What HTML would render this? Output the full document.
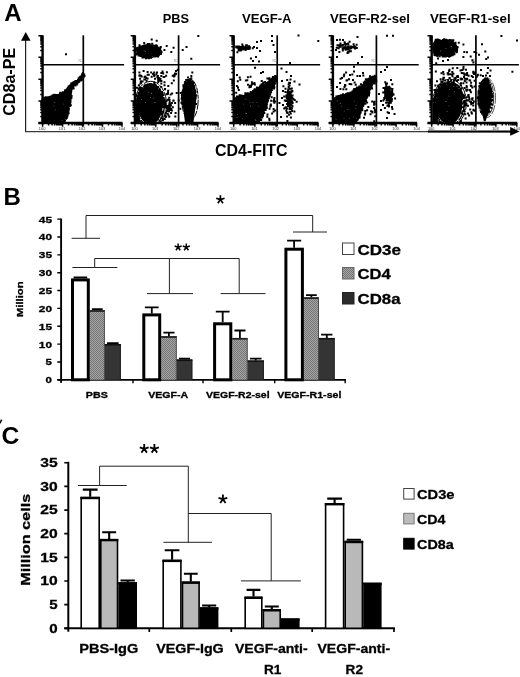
<!DOCTYPE html>
<html><head><meta charset="utf-8"><title>Figure</title>
<style>html,body{margin:0;padding:0;background:#fff;}body{width:520px;height:677px;overflow:hidden;font-family:"Liberation Sans",sans-serif;}svg{display:block;}text{font-family:"Liberation Sans",sans-serif;}</style>
</head><body>
<svg width="520" height="677" viewBox="0 0 520 677" style="opacity:0.999">
<defs>
<pattern id="dith" width="2" height="2" patternUnits="userSpaceOnUse"><rect width="2" height="2" fill="#a4a4a4"/><rect width="1" height="1" fill="#767676"/><rect x="1" y="1" width="1" height="1" fill="#767676"/></pattern>
<pattern id="dith2" width="2" height="2" patternUnits="userSpaceOnUse"><rect width="2" height="2" fill="#bdbdbd"/><rect width="1" height="1" fill="#b0b0b0"/><rect x="1" y="1" width="1" height="1" fill="#b0b0b0"/></pattern>
<filter id="soft" x="-5%" y="-5%" width="110%" height="110%"><feGaussianBlur stdDeviation="0.35"/></filter>
</defs>
<rect width="520" height="677" fill="#fff"/>
<g id="panelA">
<text x="4.2" y="21.2" font-size="24" font-weight="bold" fill="#000">A</text>
<text transform="translate(15,81.8) rotate(-90)" text-anchor="middle" font-size="16.4" font-weight="bold" fill="#000" textLength="68" lengthAdjust="spacingAndGlyphs">CD8a-PE</text>
<line x1="25.6" y1="40" x2="25.6" y2="131.8" stroke="#222" stroke-width="1.2"/>
<polygon points="25.7,32 21,40.8 30.6,40.8" fill="#000"/>
<line x1="25" y1="131.7" x2="512" y2="131.7" stroke="#3a3a3a" stroke-width="1.3"/>
<line x1="428" y1="131.5" x2="512" y2="131.5" stroke="#000" stroke-width="2"/>
<polygon points="519.6,131.4 510.2,127.1 510.2,135.8" fill="#000"/>
<text x="162.7" y="22.6" font-size="13" font-weight="bold" fill="#000" textLength="26.30000000000001" lengthAdjust="spacingAndGlyphs">PBS</text>
<text x="242" y="22.6" font-size="13" font-weight="bold" fill="#000" textLength="49.60000000000002" lengthAdjust="spacingAndGlyphs">VEGF-A</text>
<text x="330" y="22.6" font-size="13" font-weight="bold" fill="#000" textLength="80" lengthAdjust="spacingAndGlyphs">VEGF-R2-sel</text>
<text x="430" y="22.6" font-size="13" font-weight="bold" fill="#000" textLength="80.60000000000002" lengthAdjust="spacingAndGlyphs">VEGF-R1-sel</text>
<text x="215" y="155.7" font-size="16.4" font-weight="bold" fill="#000" textLength="72.6" lengthAdjust="spacingAndGlyphs">CD4-FITC</text>
<line x1="42.6" y1="35.3" x2="42.6" y2="124.2" stroke="#000" stroke-width="2.4"/>
<path d="M42.6 123.0h-4.2M42.6 116.4h-2.4M42.6 112.5h-2.4M42.6 109.8h-2.4M42.6 107.7h-2.4M42.6 105.9h-2.4M42.6 104.5h-2.4M42.6 103.2h-2.4M42.6 102.1h-2.4M42.6 101.1h-4.2M42.6 94.5h-2.4M42.6 90.6h-2.4M42.6 87.9h-2.4M42.6 85.8h-2.4M42.6 84.0h-2.4M42.6 82.5h-2.4M42.6 81.3h-2.4M42.6 80.2h-2.4M42.6 79.2h-4.2M42.6 72.5h-2.4M42.6 68.7h-2.4M42.6 65.9h-2.4M42.6 63.8h-2.4M42.6 62.1h-2.4M42.6 60.6h-2.4M42.6 59.3h-2.4M42.6 58.2h-2.4M42.6 57.2h-4.2M42.6 50.6h-2.4M42.6 46.8h-2.4M42.6 44.0h-2.4M42.6 41.9h-2.4M42.6 40.2h-2.4M42.6 38.7h-2.4M42.6 37.4h-2.4M42.6 36.3h-2.4M42.6 35.8h-4.2" stroke="#000" stroke-width="1.5" fill="none"/>
<line x1="38.4" y1="123.0" x2="122.5" y2="123.0" stroke="#000" stroke-width="2.5"/>
<path d="M42.6 123.0v3.8M48.6 123.0v2.6M52.1 123.0v2.6M54.6 123.0v2.6M56.6 123.0v2.6M58.1 123.0v2.6M59.5 123.0v2.6M60.6 123.0v2.6M61.7 123.0v2.6M62.6 123.0v3.8M68.6 123.0v2.6M72.1 123.0v2.6M74.6 123.0v2.6M76.5 123.0v2.6M78.1 123.0v2.6M79.5 123.0v2.6M80.6 123.0v2.6M81.6 123.0v2.6M82.6 123.0v3.8M88.6 123.0v2.6M92.1 123.0v2.6M94.6 123.0v2.6M96.5 123.0v2.6M98.1 123.0v2.6M99.4 123.0v2.6M100.6 123.0v2.6M101.6 123.0v2.6M102.5 123.0v3.8M108.5 123.0v2.6M112.1 123.0v2.6M114.6 123.0v2.6M116.5 123.0v2.6M118.1 123.0v2.6M119.4 123.0v2.6M120.6 123.0v2.6M121.6 123.0v2.6M122.0 123.0v3.8" stroke="#000" stroke-width="1.5" fill="none"/>
<text x="42.1" y="130.1" font-size="3.9" fill="#2a2a2a" text-anchor="middle">100</text>
<text x="62.1" y="130.1" font-size="3.9" fill="#2a2a2a" text-anchor="middle">101</text>
<text x="82.1" y="130.1" font-size="3.9" fill="#2a2a2a" text-anchor="middle">102</text>
<text x="102.0" y="130.1" font-size="3.9" fill="#2a2a2a" text-anchor="middle">103</text>
<text x="122.0" y="130.1" font-size="3.9" fill="#2a2a2a" text-anchor="middle">104</text>
<line x1="83.3" y1="35.3" x2="83.3" y2="126.4" stroke="#000" stroke-width="1.7"/>
<line x1="42.6" y1="64.8" x2="124.1" y2="64.8" stroke="#000" stroke-width="1.6"/>
<text x="78.5" y="62.4" font-size="3.4" fill="#888">R2</text>
<line x1="134.9" y1="35.3" x2="134.9" y2="124.2" stroke="#000" stroke-width="2.4"/>
<path d="M134.9 123.0h-4.2M134.9 116.4h-2.4M134.9 112.5h-2.4M134.9 109.8h-2.4M134.9 107.7h-2.4M134.9 105.9h-2.4M134.9 104.5h-2.4M134.9 103.2h-2.4M134.9 102.1h-2.4M134.9 101.1h-4.2M134.9 94.5h-2.4M134.9 90.6h-2.4M134.9 87.9h-2.4M134.9 85.8h-2.4M134.9 84.0h-2.4M134.9 82.5h-2.4M134.9 81.3h-2.4M134.9 80.2h-2.4M134.9 79.2h-4.2M134.9 72.5h-2.4M134.9 68.7h-2.4M134.9 65.9h-2.4M134.9 63.8h-2.4M134.9 62.1h-2.4M134.9 60.6h-2.4M134.9 59.3h-2.4M134.9 58.2h-2.4M134.9 57.2h-4.2M134.9 50.6h-2.4M134.9 46.8h-2.4M134.9 44.0h-2.4M134.9 41.9h-2.4M134.9 40.2h-2.4M134.9 38.7h-2.4M134.9 37.4h-2.4M134.9 36.3h-2.4M134.9 35.8h-4.2" stroke="#000" stroke-width="1.5" fill="none"/>
<line x1="130.70000000000002" y1="123.0" x2="218.5" y2="123.0" stroke="#000" stroke-width="2.5"/>
<path d="M134.9 123.0v3.8M141.2 123.0v2.6M144.9 123.0v2.6M147.5 123.0v2.6M149.5 123.0v2.6M151.2 123.0v2.6M152.6 123.0v2.6M153.8 123.0v2.6M154.8 123.0v2.6M155.8 123.0v3.8M162.1 123.0v2.6M165.8 123.0v2.6M168.4 123.0v2.6M170.4 123.0v2.6M172.1 123.0v2.6M173.5 123.0v2.6M174.7 123.0v2.6M175.7 123.0v2.6M176.7 123.0v3.8M183.0 123.0v2.6M186.7 123.0v2.6M189.3 123.0v2.6M191.3 123.0v2.6M193.0 123.0v2.6M194.4 123.0v2.6M195.6 123.0v2.6M196.6 123.0v2.6M197.6 123.0v3.8M203.9 123.0v2.6M207.6 123.0v2.6M210.2 123.0v2.6M212.2 123.0v2.6M213.9 123.0v2.6M215.3 123.0v2.6M216.5 123.0v2.6M217.5 123.0v2.6M218.0 123.0v3.8" stroke="#000" stroke-width="1.5" fill="none"/>
<text x="134.4" y="130.1" font-size="3.9" fill="#2a2a2a" text-anchor="middle">100</text>
<text x="155.3" y="130.1" font-size="3.9" fill="#2a2a2a" text-anchor="middle">101</text>
<text x="176.2" y="130.1" font-size="3.9" fill="#2a2a2a" text-anchor="middle">102</text>
<text x="197.1" y="130.1" font-size="3.9" fill="#2a2a2a" text-anchor="middle">103</text>
<text x="218.0" y="130.1" font-size="3.9" fill="#2a2a2a" text-anchor="middle">104</text>
<line x1="178.6" y1="35.3" x2="178.6" y2="126.4" stroke="#000" stroke-width="1.7"/>
<line x1="134.9" y1="64.8" x2="220.1" y2="64.8" stroke="#000" stroke-width="1.6"/>
<text x="173.79999999999998" y="62.4" font-size="3.4" fill="#888">R2</text>
<line x1="233.7" y1="35.3" x2="233.7" y2="124.2" stroke="#000" stroke-width="2.4"/>
<path d="M233.7 123.0h-4.2M233.7 116.4h-2.4M233.7 112.5h-2.4M233.7 109.8h-2.4M233.7 107.7h-2.4M233.7 105.9h-2.4M233.7 104.5h-2.4M233.7 103.2h-2.4M233.7 102.1h-2.4M233.7 101.1h-4.2M233.7 94.5h-2.4M233.7 90.6h-2.4M233.7 87.9h-2.4M233.7 85.8h-2.4M233.7 84.0h-2.4M233.7 82.5h-2.4M233.7 81.3h-2.4M233.7 80.2h-2.4M233.7 79.2h-4.2M233.7 72.5h-2.4M233.7 68.7h-2.4M233.7 65.9h-2.4M233.7 63.8h-2.4M233.7 62.1h-2.4M233.7 60.6h-2.4M233.7 59.3h-2.4M233.7 58.2h-2.4M233.7 57.2h-4.2M233.7 50.6h-2.4M233.7 46.8h-2.4M233.7 44.0h-2.4M233.7 41.9h-2.4M233.7 40.2h-2.4M233.7 38.7h-2.4M233.7 37.4h-2.4M233.7 36.3h-2.4M233.7 35.8h-4.2" stroke="#000" stroke-width="1.5" fill="none"/>
<line x1="229.5" y1="123.0" x2="318.5" y2="123.0" stroke="#000" stroke-width="2.5"/>
<path d="M233.7 123.0v3.8M240.1 123.0v2.6M243.8 123.0v2.6M246.5 123.0v2.6M248.5 123.0v2.6M250.2 123.0v2.6M251.6 123.0v2.6M252.8 123.0v2.6M253.9 123.0v2.6M254.9 123.0v3.8M261.3 123.0v2.6M265.0 123.0v2.6M267.7 123.0v2.6M269.7 123.0v2.6M271.4 123.0v2.6M272.8 123.0v2.6M274.0 123.0v2.6M275.1 123.0v2.6M276.1 123.0v3.8M282.5 123.0v2.6M286.2 123.0v2.6M288.9 123.0v2.6M290.9 123.0v2.6M292.6 123.0v2.6M294.0 123.0v2.6M295.2 123.0v2.6M296.3 123.0v2.6M297.3 123.0v3.8M303.7 123.0v2.6M307.4 123.0v2.6M310.1 123.0v2.6M312.1 123.0v2.6M313.8 123.0v2.6M315.2 123.0v2.6M316.4 123.0v2.6M317.5 123.0v2.6M318.0 123.0v3.8" stroke="#000" stroke-width="1.5" fill="none"/>
<text x="233.2" y="130.1" font-size="3.9" fill="#2a2a2a" text-anchor="middle">100</text>
<text x="254.4" y="130.1" font-size="3.9" fill="#2a2a2a" text-anchor="middle">101</text>
<text x="275.6" y="130.1" font-size="3.9" fill="#2a2a2a" text-anchor="middle">102</text>
<text x="296.8" y="130.1" font-size="3.9" fill="#2a2a2a" text-anchor="middle">103</text>
<text x="318.0" y="130.1" font-size="3.9" fill="#2a2a2a" text-anchor="middle">104</text>
<line x1="277.2" y1="35.3" x2="277.2" y2="126.4" stroke="#000" stroke-width="1.7"/>
<line x1="233.7" y1="64.8" x2="320.1" y2="64.8" stroke="#000" stroke-width="1.6"/>
<text x="272.4" y="62.4" font-size="3.4" fill="#888">R2</text>
<line x1="332.9" y1="35.3" x2="332.9" y2="124.2" stroke="#000" stroke-width="2.4"/>
<path d="M332.9 123.0h-4.2M332.9 116.4h-2.4M332.9 112.5h-2.4M332.9 109.8h-2.4M332.9 107.7h-2.4M332.9 105.9h-2.4M332.9 104.5h-2.4M332.9 103.2h-2.4M332.9 102.1h-2.4M332.9 101.1h-4.2M332.9 94.5h-2.4M332.9 90.6h-2.4M332.9 87.9h-2.4M332.9 85.8h-2.4M332.9 84.0h-2.4M332.9 82.5h-2.4M332.9 81.3h-2.4M332.9 80.2h-2.4M332.9 79.2h-4.2M332.9 72.5h-2.4M332.9 68.7h-2.4M332.9 65.9h-2.4M332.9 63.8h-2.4M332.9 62.1h-2.4M332.9 60.6h-2.4M332.9 59.3h-2.4M332.9 58.2h-2.4M332.9 57.2h-4.2M332.9 50.6h-2.4M332.9 46.8h-2.4M332.9 44.0h-2.4M332.9 41.9h-2.4M332.9 40.2h-2.4M332.9 38.7h-2.4M332.9 37.4h-2.4M332.9 36.3h-2.4M332.9 35.8h-4.2" stroke="#000" stroke-width="1.5" fill="none"/>
<line x1="328.7" y1="123.0" x2="417.1" y2="123.0" stroke="#000" stroke-width="2.5"/>
<path d="M332.9 123.0v3.8M339.2 123.0v2.6M342.9 123.0v2.6M345.6 123.0v2.6M347.6 123.0v2.6M349.3 123.0v2.6M350.7 123.0v2.6M351.9 123.0v2.6M353.0 123.0v2.6M353.9 123.0v3.8M360.3 123.0v2.6M364.0 123.0v2.6M366.6 123.0v2.6M368.7 123.0v2.6M370.3 123.0v2.6M371.7 123.0v2.6M373.0 123.0v2.6M374.0 123.0v2.6M375.0 123.0v3.8M381.3 123.0v2.6M385.0 123.0v2.6M387.7 123.0v2.6M389.7 123.0v2.6M391.4 123.0v2.6M392.8 123.0v2.6M394.0 123.0v2.6M395.1 123.0v2.6M396.1 123.0v3.8M402.4 123.0v2.6M406.1 123.0v2.6M408.7 123.0v2.6M410.8 123.0v2.6M412.4 123.0v2.6M413.8 123.0v2.6M415.1 123.0v2.6M416.1 123.0v2.6M416.6 123.0v3.8" stroke="#000" stroke-width="1.5" fill="none"/>
<text x="332.4" y="130.1" font-size="3.9" fill="#2a2a2a" text-anchor="middle">100</text>
<text x="353.4" y="130.1" font-size="3.9" fill="#2a2a2a" text-anchor="middle">101</text>
<text x="374.5" y="130.1" font-size="3.9" fill="#2a2a2a" text-anchor="middle">102</text>
<text x="395.6" y="130.1" font-size="3.9" fill="#2a2a2a" text-anchor="middle">103</text>
<text x="416.6" y="130.1" font-size="3.9" fill="#2a2a2a" text-anchor="middle">104</text>
<line x1="376.4" y1="35.3" x2="376.4" y2="126.4" stroke="#000" stroke-width="1.7"/>
<line x1="332.9" y1="64.8" x2="418.70000000000005" y2="64.8" stroke="#000" stroke-width="1.6"/>
<text x="371.59999999999997" y="62.4" font-size="3.4" fill="#888">R2</text>
<line x1="431.7" y1="35.3" x2="431.7" y2="124.2" stroke="#000" stroke-width="2.4"/>
<path d="M431.7 123.0h-4.2M431.7 116.4h-2.4M431.7 112.5h-2.4M431.7 109.8h-2.4M431.7 107.7h-2.4M431.7 105.9h-2.4M431.7 104.5h-2.4M431.7 103.2h-2.4M431.7 102.1h-2.4M431.7 101.1h-4.2M431.7 94.5h-2.4M431.7 90.6h-2.4M431.7 87.9h-2.4M431.7 85.8h-2.4M431.7 84.0h-2.4M431.7 82.5h-2.4M431.7 81.3h-2.4M431.7 80.2h-2.4M431.7 79.2h-4.2M431.7 72.5h-2.4M431.7 68.7h-2.4M431.7 65.9h-2.4M431.7 63.8h-2.4M431.7 62.1h-2.4M431.7 60.6h-2.4M431.7 59.3h-2.4M431.7 58.2h-2.4M431.7 57.2h-4.2M431.7 50.6h-2.4M431.7 46.8h-2.4M431.7 44.0h-2.4M431.7 41.9h-2.4M431.7 40.2h-2.4M431.7 38.7h-2.4M431.7 37.4h-2.4M431.7 36.3h-2.4M431.7 35.8h-4.2" stroke="#000" stroke-width="1.5" fill="none"/>
<line x1="427.5" y1="123.0" x2="517.3" y2="123.0" stroke="#000" stroke-width="2.5"/>
<path d="M431.7 123.0v3.8M438.1 123.0v2.6M441.9 123.0v2.6M444.6 123.0v2.6M446.7 123.0v2.6M448.4 123.0v2.6M449.8 123.0v2.6M451.0 123.0v2.6M452.1 123.0v2.6M453.1 123.0v3.8M459.5 123.0v2.6M463.3 123.0v2.6M466.0 123.0v2.6M468.1 123.0v2.6M469.8 123.0v2.6M471.2 123.0v2.6M472.4 123.0v2.6M473.5 123.0v2.6M474.5 123.0v3.8M480.9 123.0v2.6M484.7 123.0v2.6M487.4 123.0v2.6M489.5 123.0v2.6M491.2 123.0v2.6M492.6 123.0v2.6M493.8 123.0v2.6M494.9 123.0v2.6M495.9 123.0v3.8M502.3 123.0v2.6M506.1 123.0v2.6M508.8 123.0v2.6M510.9 123.0v2.6M512.6 123.0v2.6M514.0 123.0v2.6M515.2 123.0v2.6M516.3 123.0v2.6M516.8 123.0v3.8" stroke="#000" stroke-width="1.5" fill="none"/>
<text x="431.2" y="130.1" font-size="3.9" fill="#2a2a2a" text-anchor="middle">100</text>
<text x="452.6" y="130.1" font-size="3.9" fill="#2a2a2a" text-anchor="middle">101</text>
<text x="474.0" y="130.1" font-size="3.9" fill="#2a2a2a" text-anchor="middle">102</text>
<text x="495.4" y="130.1" font-size="3.9" fill="#2a2a2a" text-anchor="middle">103</text>
<text x="516.8" y="130.1" font-size="3.9" fill="#2a2a2a" text-anchor="middle">104</text>
<line x1="475.9" y1="35.3" x2="475.9" y2="126.4" stroke="#000" stroke-width="1.7"/>
<line x1="431.7" y1="64.8" x2="518.9" y2="64.8" stroke="#000" stroke-width="1.6"/>
<text x="471.09999999999997" y="62.4" font-size="3.4" fill="#888">R2</text>
<g filter="url(#soft)">
<polygon points="42.0,98.3 50.0,96.6 56.5,95.0 60.0,94.0 64.2,92.2 66.8,89.6 69.4,86.0 73.0,83.0 76.0,81.0 80.0,77.4 83.4,73.6 83.8,75.5 82.0,78.8 77.6,82.8 73.6,86.4 70.6,90.5 70.6,96.5 69.6,104.0 68.3,110.0 67.0,114.5 65.2,119.0 63.8,122.4 42.0,122.4" fill="#000" stroke="#000" stroke-width="1.0" stroke-linejoin="round"/>
<path d="M44.1 97.5h2.0v2.0h-2.0zM44.7 96.7h2.0v2.0h-2.0zM44.5 96.3h2.0v2.0h-2.0zM44.3 97.3h2.0v2.0h-2.0zM47.9 96.6h2.0v2.0h-2.0zM45.6 96.8h2.0v2.0h-2.0zM46.0 96.4h2.0v2.0h-2.0zM52.3 94.8h2.0v2.0h-2.0zM54.0 93.9h2.0v2.0h-2.0zM51.5 94.5h2.0v2.0h-2.0zM53.3 96.1h2.0v2.0h-2.0zM48.9 95.9h2.0v2.0h-2.0zM49.8 95.4h2.0v2.0h-2.0zM53.4 93.8h2.0v2.0h-2.0zM54.3 95.1h2.0v2.0h-2.0zM52.3 94.3h2.0v2.0h-2.0zM55.1 94.0h2.0v2.0h-2.0zM54.2 94.9h2.0v2.0h-2.0zM58.9 93.3h2.0v2.0h-2.0zM55.8 94.3h2.0v2.0h-2.0zM55.2 94.1h2.0v2.0h-2.0zM56.9 94.3h2.0v2.0h-2.0zM56.0 94.5h2.0v2.0h-2.0zM59.1 93.4h2.0v2.0h-2.0zM62.1 91.3h2.0v2.0h-2.0zM62.5 92.1h2.0v2.0h-2.0zM61.6 91.4h2.0v2.0h-2.0zM59.8 93.1h2.0v2.0h-2.0zM59.2 92.7h2.0v2.0h-2.0zM60.7 92.5h2.0v2.0h-2.0zM59.2 91.7h2.0v2.0h-2.0zM64.2 89.3h2.0v2.0h-2.0zM66.2 89.9h2.0v2.0h-2.0zM66.0 88.4h2.0v2.0h-2.0zM64.0 90.3h2.0v2.0h-2.0zM65.1 89.6h2.0v2.0h-2.0zM64.0 91.1h2.0v2.0h-2.0zM66.3 88.4h2.0v2.0h-2.0zM66.0 88.3h2.0v2.0h-2.0zM67.8 85.2h2.0v2.0h-2.0zM66.1 88.2h2.0v2.0h-2.0zM67.2 86.6h2.0v2.0h-2.0zM66.8 86.9h2.0v2.0h-2.0zM65.8 88.6h2.0v2.0h-2.0zM71.5 82.6h2.0v2.0h-2.0zM71.5 82.1h2.0v2.0h-2.0zM71.1 83.5h2.0v2.0h-2.0zM72.5 81.4h2.0v2.0h-2.0zM69.1 84.5h2.0v2.0h-2.0zM70.2 82.5h2.0v2.0h-2.0zM69.8 85.1h2.0v2.0h-2.0zM72.6 81.2h2.0v2.0h-2.0zM74.4 79.9h2.0v2.0h-2.0zM73.5 81.1h2.0v2.0h-2.0zM72.0 82.4h2.0v2.0h-2.0zM74.7 80.4h2.0v2.0h-2.0zM76.3 80.0h2.0v2.0h-2.0zM73.2 81.7h2.0v2.0h-2.0zM76.0 80.1h2.0v2.0h-2.0zM79.0 76.2h2.0v2.0h-2.0zM77.7 77.4h2.0v2.0h-2.0zM78.5 77.1h2.0v2.0h-2.0zM77.6 77.4h2.0v2.0h-2.0zM77.6 78.1h2.0v2.0h-2.0zM78.4 76.9h2.0v2.0h-2.0zM78.7 76.2h2.0v2.0h-2.0zM76.3 80.6h2.0v2.0h-2.0zM82.4 74.2h2.0v2.0h-2.0zM82.0 72.2h2.0v2.0h-2.0zM80.9 74.4h2.0v2.0h-2.0zM81.9 72.1h2.0v2.0h-2.0zM81.1 73.3h2.0v2.0h-2.0zM81.9 73.7h2.0v2.0h-2.0zM80.0 76.1h2.0v2.0h-2.0zM79.6 75.6h2.0v2.0h-2.0zM82.4 74.9h2.0v2.0h-2.0zM83.2 73.4h2.0v2.0h-2.0zM82.0 74.3h2.0v2.0h-2.0zM82.5 76.3h2.0v2.0h-2.0zM83.5 75.1h2.0v2.0h-2.0zM81.5 75.2h2.0v2.0h-2.0zM81.5 77.0h2.0v2.0h-2.0zM81.9 76.1h2.0v2.0h-2.0zM81.8 76.8h2.0v2.0h-2.0zM76.8 80.9h2.0v2.0h-2.0zM78.2 80.5h2.0v2.0h-2.0zM77.6 80.2h2.0v2.0h-2.0zM77.2 80.8h2.0v2.0h-2.0zM79.8 79.4h2.0v2.0h-2.0zM77.6 81.1h2.0v2.0h-2.0zM79.6 79.6h2.0v2.0h-2.0zM80.9 78.8h2.0v2.0h-2.0zM80.7 78.3h2.0v2.0h-2.0zM74.2 83.0h2.0v2.0h-2.0zM75.8 81.5h2.0v2.0h-2.0zM77.2 81.3h2.0v2.0h-2.0zM76.3 82.4h2.0v2.0h-2.0zM75.8 83.5h2.0v2.0h-2.0zM75.3 82.7h2.0v2.0h-2.0zM75.4 83.5h2.0v2.0h-2.0zM74.5 84.5h2.0v2.0h-2.0zM75.4 83.4h2.0v2.0h-2.0zM70.5 87.9h2.0v2.0h-2.0zM70.0 87.9h2.0v2.0h-2.0zM72.3 86.0h2.0v2.0h-2.0zM70.2 88.9h2.0v2.0h-2.0zM72.3 86.5h2.0v2.0h-2.0zM72.6 87.5h2.0v2.0h-2.0zM70.8 87.5h2.0v2.0h-2.0zM72.2 85.1h2.0v2.0h-2.0zM70.4 89.6h2.0v2.0h-2.0zM70.6 94.9h2.0v2.0h-2.0zM70.0 89.4h2.0v2.0h-2.0zM68.3 91.1h2.0v2.0h-2.0zM70.1 91.6h2.0v2.0h-2.0zM69.9 91.2h2.0v2.0h-2.0zM69.8 90.3h2.0v2.0h-2.0zM69.6 90.8h2.0v2.0h-2.0zM69.8 93.0h2.0v2.0h-2.0zM69.6 89.7h2.0v2.0h-2.0zM68.5 100.9h2.0v2.0h-2.0zM69.4 98.9h2.0v2.0h-2.0zM68.1 101.9h2.0v2.0h-2.0zM68.2 102.2h2.0v2.0h-2.0zM69.5 100.6h2.0v2.0h-2.0zM68.5 100.9h2.0v2.0h-2.0zM69.1 98.7h2.0v2.0h-2.0zM70.4 96.9h2.0v2.0h-2.0zM69.5 97.6h2.0v2.0h-2.0zM69.4 101.2h2.0v2.0h-2.0zM69.3 98.1h2.0v2.0h-2.0zM69.5 99.5h2.0v2.0h-2.0zM69.8 104.2h2.0v2.0h-2.0zM67.9 107.8h2.0v2.0h-2.0zM68.2 104.9h2.0v2.0h-2.0zM67.4 105.4h2.0v2.0h-2.0zM68.3 104.2h2.0v2.0h-2.0zM68.8 104.9h2.0v2.0h-2.0zM69.1 103.3h2.0v2.0h-2.0zM67.7 104.0h2.0v2.0h-2.0zM67.1 106.7h2.0v2.0h-2.0zM67.0 108.6h2.0v2.0h-2.0zM66.6 114.2h2.0v2.0h-2.0zM67.6 112.2h2.0v2.0h-2.0zM65.5 112.3h2.0v2.0h-2.0zM66.7 113.2h2.0v2.0h-2.0zM67.2 110.3h2.0v2.0h-2.0zM65.1 112.1h2.0v2.0h-2.0zM66.3 111.7h2.0v2.0h-2.0zM67.6 109.6h2.0v2.0h-2.0zM66.2 113.3h2.0v2.0h-2.0zM64.2 115.7h2.0v2.0h-2.0zM66.2 115.7h2.0v2.0h-2.0zM63.9 116.9h2.0v2.0h-2.0zM65.7 116.9h2.0v2.0h-2.0zM66.0 114.8h2.0v2.0h-2.0zM65.0 117.7h2.0v2.0h-2.0zM63.7 117.9h2.0v2.0h-2.0zM63.1 118.7h2.0v2.0h-2.0zM63.2 119.9h2.0v2.0h-2.0zM64.0 119.5h2.0v2.0h-2.0zM63.7 119.0h2.0v2.0h-2.0zM64.0 119.1h2.0v2.0h-2.0zM63.0 119.9h2.0v2.0h-2.0zM65.0 53.3h2.0v2.0h-2.0z" fill="#000"/>
<path d="M55.0 109.4h0.8v0.8h-0.8zM53.9 102.1h0.8v0.8h-0.8zM63.3 103.8h0.8v0.8h-0.8zM65.1 119.3h0.8v0.8h-0.8zM61.6 119.9h0.8v0.8h-0.8zM53.5 105.2h0.8v0.8h-0.8z" fill="#666"/>
<polygon points="160.6,51.3 160.4,52.3 160.0,53.2 159.3,54.1 158.3,54.9 157.0,55.7 155.6,56.3 153.9,56.8 152.2,57.2 150.3,57.4 148.4,57.5 146.5,57.4 144.6,57.2 142.9,56.8 141.2,56.3 139.8,55.7 138.5,54.9 137.5,54.1 136.8,53.2 136.4,52.3 136.2,51.3 136.4,50.3 136.8,49.4 137.5,48.5 138.5,47.7 139.8,46.9 141.2,46.3 142.9,45.8 144.6,45.4 146.5,45.2 148.4,45.1 150.3,45.2 152.2,45.4 153.9,45.8 155.6,46.3 157.0,46.9 158.3,47.7 159.3,48.5 160.0,49.4 160.4,50.3 160.6,51.3" fill="#000"/>
<clipPath id="c2"><rect x="136" y="66" width="84" height="56.4"/></clipPath>
<g clip-path="url(#c2)">
<ellipse cx="150.2" cy="105.2" rx="12.5" ry="19.2" fill="#000"/>
<ellipse cx="150.4" cy="104.8" rx="14" ry="21" fill="none" stroke="#000" stroke-width="1.3" stroke-dasharray="11 1 6 0.8 8 1.2"/>
<ellipse cx="150.8" cy="104.3" rx="15.8" ry="23" fill="none" stroke="#000" stroke-width="1.0" stroke-dasharray="7 1.2 10 1 5 1.2"/>
<path d="M136 101 L139 100 L140 122.4 L136 122.4Z" fill="#000"/>
<ellipse cx="189.2" cy="99" rx="6.9" ry="18.8" fill="#000"/>
<polygon points="183,106 195.6,106 193.4,122.4 185,122.4" fill="#000"/>
<ellipse cx="190" cy="99.6" rx="8.2" ry="20.4" fill="none" stroke="#000" stroke-width="1.0" stroke-dasharray="10 1.2 6 1 4 1.2"/>
</g>
<path d="M160.0 50.3h2.0v2.0h-2.0zM160.0 51.5h2.0v2.0h-2.0zM159.9 53.1h2.0v2.0h-2.0zM160.0 51.0h2.0v2.0h-2.0zM159.5 51.9h2.0v2.0h-2.0zM159.8 52.3h2.0v2.0h-2.0zM157.7 53.9h2.0v2.0h-2.0zM157.4 54.6h2.0v2.0h-2.0zM157.3 52.6h2.0v2.0h-2.0zM158.1 53.5h2.0v2.0h-2.0zM156.0 55.3h2.0v2.0h-2.0zM156.4 54.9h2.0v2.0h-2.0zM155.0 55.2h2.0v2.0h-2.0zM157.0 55.5h2.0v2.0h-2.0zM154.6 55.3h2.0v2.0h-2.0zM153.7 55.4h2.0v2.0h-2.0zM155.4 55.1h2.0v2.0h-2.0zM150.4 55.0h2.0v2.0h-2.0zM150.2 55.8h2.0v2.0h-2.0zM152.8 55.1h2.0v2.0h-2.0zM149.4 55.9h2.0v2.0h-2.0zM151.4 56.0h2.0v2.0h-2.0zM150.0 56.8h2.0v2.0h-2.0zM148.4 56.4h2.0v2.0h-2.0zM147.8 57.3h2.0v2.0h-2.0zM148.8 56.8h2.0v2.0h-2.0zM147.7 56.0h2.0v2.0h-2.0zM148.9 55.2h2.0v2.0h-2.0zM146.8 56.8h2.0v2.0h-2.0zM145.2 56.7h2.0v2.0h-2.0zM145.0 57.3h2.0v2.0h-2.0zM143.8 55.5h2.0v2.0h-2.0zM142.2 55.9h2.0v2.0h-2.0zM143.6 56.3h2.0v2.0h-2.0zM142.5 56.4h2.0v2.0h-2.0zM141.2 55.1h2.0v2.0h-2.0zM141.4 56.4h2.0v2.0h-2.0zM142.4 55.2h2.0v2.0h-2.0zM139.1 54.8h2.0v2.0h-2.0zM139.8 54.4h2.0v2.0h-2.0zM140.1 54.9h2.0v2.0h-2.0zM138.3 52.8h2.0v2.0h-2.0zM137.6 54.3h2.0v2.0h-2.0zM137.5 54.4h2.0v2.0h-2.0zM136.4 52.2h2.0v2.0h-2.0zM135.9 53.5h2.0v2.0h-2.0zM136.6 52.6h2.0v2.0h-2.0zM135.7 53.1h2.0v2.0h-2.0zM135.9 49.1h2.0v2.0h-2.0zM135.8 47.3h2.0v2.0h-2.0zM137.4 47.4h2.0v2.0h-2.0zM136.8 46.7h2.0v2.0h-2.0zM138.5 45.2h2.0v2.0h-2.0zM138.4 46.4h2.0v2.0h-2.0zM138.6 46.5h2.0v2.0h-2.0zM139.4 47.1h2.0v2.0h-2.0zM139.7 46.1h2.0v2.0h-2.0zM138.5 44.2h2.0v2.0h-2.0zM140.1 45.5h2.0v2.0h-2.0zM142.0 45.0h2.0v2.0h-2.0zM139.2 46.2h2.0v2.0h-2.0zM143.2 42.0h2.0v2.0h-2.0zM143.3 44.8h2.0v2.0h-2.0zM143.5 44.2h2.0v2.0h-2.0zM144.4 44.7h2.0v2.0h-2.0zM144.3 44.4h2.0v2.0h-2.0zM143.1 45.7h2.0v2.0h-2.0zM146.2 44.1h2.0v2.0h-2.0zM146.7 43.0h2.0v2.0h-2.0zM147.1 44.4h2.0v2.0h-2.0zM148.5 43.9h2.0v2.0h-2.0zM148.2 44.0h2.0v2.0h-2.0zM148.6 43.0h2.0v2.0h-2.0zM149.6 44.2h2.0v2.0h-2.0zM151.0 45.5h2.0v2.0h-2.0zM150.7 44.9h2.0v2.0h-2.0zM152.5 44.4h2.0v2.0h-2.0zM152.2 45.2h2.0v2.0h-2.0zM151.2 42.8h2.0v2.0h-2.0zM154.1 45.0h2.0v2.0h-2.0zM151.6 45.2h2.0v2.0h-2.0zM154.1 45.6h2.0v2.0h-2.0zM153.6 45.6h2.0v2.0h-2.0zM155.2 44.3h2.0v2.0h-2.0zM155.9 44.9h2.0v2.0h-2.0zM156.2 46.8h2.0v2.0h-2.0zM157.4 46.7h2.0v2.0h-2.0zM157.0 46.7h2.0v2.0h-2.0zM156.7 46.5h2.0v2.0h-2.0zM159.8 46.1h2.0v2.0h-2.0zM158.7 47.9h2.0v2.0h-2.0zM158.4 47.2h2.0v2.0h-2.0zM158.3 49.1h2.0v2.0h-2.0zM159.3 47.7h2.0v2.0h-2.0zM160.5 50.9h2.0v2.0h-2.0zM158.9 49.3h2.0v2.0h-2.0zM136.4 103.5h2.0v2.0h-2.0zM137.5 105.7h2.0v2.0h-2.0zM136.6 100.2h2.0v2.0h-2.0zM136.8 102.0h2.0v2.0h-2.0zM137.4 98.3h2.0v2.0h-2.0zM137.0 96.7h2.0v2.0h-2.0zM136.4 98.1h2.0v2.0h-2.0zM136.8 99.3h2.0v2.0h-2.0zM137.1 97.0h2.0v2.0h-2.0zM136.6 96.7h2.0v2.0h-2.0zM138.0 97.6h2.0v2.0h-2.0zM138.1 95.3h2.0v2.0h-2.0zM135.8 94.8h2.0v2.0h-2.0zM138.2 97.5h2.0v2.0h-2.0zM137.9 94.5h2.0v2.0h-2.0zM138.0 94.0h2.0v2.0h-2.0zM136.0 94.8h2.0v2.0h-2.0zM138.1 93.1h2.0v2.0h-2.0zM139.3 91.4h2.0v2.0h-2.0zM137.4 92.1h2.0v2.0h-2.0zM139.9 90.9h2.0v2.0h-2.0zM141.1 90.8h2.0v2.0h-2.0zM140.5 89.7h2.0v2.0h-2.0zM139.1 91.0h2.0v2.0h-2.0zM140.3 90.6h2.0v2.0h-2.0zM142.5 89.1h2.0v2.0h-2.0zM142.1 88.2h2.0v2.0h-2.0zM144.7 86.8h2.0v2.0h-2.0zM144.6 88.5h2.0v2.0h-2.0zM143.3 86.7h2.0v2.0h-2.0zM144.8 88.0h2.0v2.0h-2.0zM141.0 88.1h2.0v2.0h-2.0zM144.0 87.0h2.0v2.0h-2.0zM143.2 85.6h2.0v2.0h-2.0zM144.1 87.9h2.0v2.0h-2.0zM146.5 85.7h2.0v2.0h-2.0zM148.4 85.4h2.0v2.0h-2.0zM144.1 84.3h2.0v2.0h-2.0zM145.5 86.1h2.0v2.0h-2.0zM145.7 85.3h2.0v2.0h-2.0zM146.8 84.7h2.0v2.0h-2.0zM146.4 84.6h2.0v2.0h-2.0zM149.1 83.0h2.0v2.0h-2.0zM147.5 84.5h2.0v2.0h-2.0zM147.5 84.6h2.0v2.0h-2.0zM149.5 84.3h2.0v2.0h-2.0zM151.8 85.3h2.0v2.0h-2.0zM149.9 84.4h2.0v2.0h-2.0zM149.1 86.6h2.0v2.0h-2.0zM153.2 81.3h2.0v2.0h-2.0zM151.9 83.9h2.0v2.0h-2.0zM150.2 85.4h2.0v2.0h-2.0zM154.2 87.0h2.0v2.0h-2.0zM154.2 85.7h2.0v2.0h-2.0zM155.6 88.0h2.0v2.0h-2.0zM153.9 84.9h2.0v2.0h-2.0zM154.6 85.3h2.0v2.0h-2.0zM153.8 86.2h2.0v2.0h-2.0zM154.9 86.7h2.0v2.0h-2.0zM154.6 84.6h2.0v2.0h-2.0zM156.1 86.6h2.0v2.0h-2.0zM155.6 86.7h2.0v2.0h-2.0zM155.3 87.4h2.0v2.0h-2.0zM160.8 91.6h2.0v2.0h-2.0zM155.9 90.2h2.0v2.0h-2.0zM158.8 88.4h2.0v2.0h-2.0zM158.4 88.7h2.0v2.0h-2.0zM158.1 89.3h2.0v2.0h-2.0zM158.7 92.3h2.0v2.0h-2.0zM158.3 91.6h2.0v2.0h-2.0zM159.5 91.4h2.0v2.0h-2.0zM158.1 90.3h2.0v2.0h-2.0zM160.7 93.0h2.0v2.0h-2.0zM159.8 92.7h2.0v2.0h-2.0zM159.5 93.0h2.0v2.0h-2.0zM160.3 94.7h2.0v2.0h-2.0zM161.4 97.0h2.0v2.0h-2.0zM162.7 97.2h2.0v2.0h-2.0zM161.0 95.1h2.0v2.0h-2.0zM162.4 93.9h2.0v2.0h-2.0zM161.3 97.1h2.0v2.0h-2.0zM160.5 96.9h2.0v2.0h-2.0zM158.8 98.3h2.0v2.0h-2.0zM161.6 100.1h2.0v2.0h-2.0zM160.5 97.9h2.0v2.0h-2.0zM163.7 99.3h2.0v2.0h-2.0zM159.0 97.2h2.0v2.0h-2.0zM162.2 99.9h2.0v2.0h-2.0zM160.7 99.4h2.0v2.0h-2.0zM161.7 101.4h2.0v2.0h-2.0zM163.6 98.8h2.0v2.0h-2.0zM164.5 101.6h2.0v2.0h-2.0zM160.4 104.1h2.0v2.0h-2.0zM162.3 103.6h2.0v2.0h-2.0zM163.3 102.9h2.0v2.0h-2.0zM161.5 101.5h2.0v2.0h-2.0zM181.4 102.7h2.0v2.0h-2.0zM181.7 101.8h2.0v2.0h-2.0zM180.4 101.7h2.0v2.0h-2.0zM181.7 103.2h2.0v2.0h-2.0zM181.5 101.3h2.0v2.0h-2.0zM181.3 97.5h2.0v2.0h-2.0zM181.1 98.8h2.0v2.0h-2.0zM180.6 97.5h2.0v2.0h-2.0zM182.1 95.9h2.0v2.0h-2.0zM180.9 94.2h2.0v2.0h-2.0zM181.2 95.8h2.0v2.0h-2.0zM181.6 98.0h2.0v2.0h-2.0zM181.7 94.6h2.0v2.0h-2.0zM182.6 95.9h2.0v2.0h-2.0zM181.6 94.2h2.0v2.0h-2.0zM181.0 94.0h2.0v2.0h-2.0zM181.9 90.0h2.0v2.0h-2.0zM181.0 91.5h2.0v2.0h-2.0zM182.1 89.7h2.0v2.0h-2.0zM183.4 88.9h2.0v2.0h-2.0zM182.2 89.4h2.0v2.0h-2.0zM182.8 88.2h2.0v2.0h-2.0zM182.8 86.9h2.0v2.0h-2.0zM182.4 88.8h2.0v2.0h-2.0zM183.2 85.7h2.0v2.0h-2.0zM183.4 85.9h2.0v2.0h-2.0zM182.6 85.5h2.0v2.0h-2.0zM184.3 83.8h2.0v2.0h-2.0zM183.8 82.8h2.0v2.0h-2.0zM182.4 84.2h2.0v2.0h-2.0zM184.1 81.3h2.0v2.0h-2.0zM184.4 82.1h2.0v2.0h-2.0zM184.8 81.4h2.0v2.0h-2.0zM185.2 78.9h2.0v2.0h-2.0zM184.1 81.1h2.0v2.0h-2.0zM187.0 80.1h2.0v2.0h-2.0zM186.5 79.2h2.0v2.0h-2.0zM187.7 79.5h2.0v2.0h-2.0zM187.3 79.1h2.0v2.0h-2.0zM189.6 79.7h2.0v2.0h-2.0zM188.8 78.2h2.0v2.0h-2.0zM188.7 79.9h2.0v2.0h-2.0zM191.1 80.6h2.0v2.0h-2.0zM190.1 80.5h2.0v2.0h-2.0zM190.1 81.0h2.0v2.0h-2.0zM191.8 83.2h2.0v2.0h-2.0zM191.4 80.7h2.0v2.0h-2.0zM191.1 82.6h2.0v2.0h-2.0zM192.5 82.1h2.0v2.0h-2.0zM192.7 84.7h2.0v2.0h-2.0zM192.1 84.0h2.0v2.0h-2.0zM193.3 85.3h2.0v2.0h-2.0zM192.3 86.0h2.0v2.0h-2.0zM193.4 86.8h2.0v2.0h-2.0zM193.0 88.2h2.0v2.0h-2.0zM193.1 87.6h2.0v2.0h-2.0zM193.7 89.0h2.0v2.0h-2.0zM194.3 89.7h2.0v2.0h-2.0zM194.5 91.0h2.0v2.0h-2.0zM194.3 91.5h2.0v2.0h-2.0zM194.0 90.3h2.0v2.0h-2.0zM192.8 90.2h2.0v2.0h-2.0zM193.4 94.1h2.0v2.0h-2.0zM194.9 94.2h2.0v2.0h-2.0zM194.2 91.8h2.0v2.0h-2.0zM193.2 92.9h2.0v2.0h-2.0zM194.6 97.4h2.0v2.0h-2.0zM194.7 96.6h2.0v2.0h-2.0zM194.1 96.7h2.0v2.0h-2.0zM194.1 97.3h2.0v2.0h-2.0zM193.4 98.9h2.0v2.0h-2.0zM194.1 99.7h2.0v2.0h-2.0zM193.5 99.5h2.0v2.0h-2.0zM193.7 97.8h2.0v2.0h-2.0zM193.7 100.5h2.0v2.0h-2.0zM192.4 102.2h2.0v2.0h-2.0zM194.0 101.0h2.0v2.0h-2.0zM195.0 102.9h2.0v2.0h-2.0zM160.0 109.3h2.0v2.0h-2.0zM155.3 87.2h2.0v2.0h-2.0zM153.3 117.7h2.0v2.0h-2.0zM136.3 112.7h2.0v2.0h-2.0zM147.4 103.2h2.0v2.0h-2.0zM148.0 112.0h2.0v2.0h-2.0zM159.9 101.0h2.0v2.0h-2.0zM135.9 108.9h2.0v2.0h-2.0zM144.8 107.5h2.0v2.0h-2.0zM152.1 119.5h2.0v2.0h-2.0zM160.9 94.6h2.0v2.0h-2.0zM144.1 105.2h2.0v2.0h-2.0zM161.4 115.1h2.0v2.0h-2.0zM154.7 84.2h2.0v2.0h-2.0zM136.9 103.0h2.0v2.0h-2.0zM140.9 113.7h2.0v2.0h-2.0zM157.2 79.9h2.0v2.0h-2.0zM141.3 102.0h2.0v2.0h-2.0zM144.6 98.1h2.0v2.0h-2.0zM154.2 90.3h2.0v2.0h-2.0zM154.2 92.4h2.0v2.0h-2.0zM144.1 106.4h2.0v2.0h-2.0zM143.8 103.4h2.0v2.0h-2.0zM165.5 100.3h2.0v2.0h-2.0zM148.0 108.8h2.0v2.0h-2.0zM145.8 113.0h2.0v2.0h-2.0zM136.7 107.4h2.0v2.0h-2.0zM144.4 90.4h2.0v2.0h-2.0zM167.2 89.8h2.0v2.0h-2.0zM167.1 107.9h2.0v2.0h-2.0zM164.0 88.3h2.0v2.0h-2.0zM161.5 117.5h2.0v2.0h-2.0zM148.3 98.5h2.0v2.0h-2.0zM174.1 102.1h2.0v2.0h-2.0zM145.3 92.4h2.0v2.0h-2.0zM154.0 104.0h2.0v2.0h-2.0zM146.2 105.7h2.0v2.0h-2.0zM164.1 88.0h2.0v2.0h-2.0zM136.0 86.8h2.0v2.0h-2.0zM139.1 77.8h2.0v2.0h-2.0zM154.0 77.7h2.0v2.0h-2.0zM154.5 117.4h2.0v2.0h-2.0zM142.1 96.8h2.0v2.0h-2.0zM150.0 106.5h2.0v2.0h-2.0zM146.0 100.2h2.0v2.0h-2.0zM144.0 101.4h2.0v2.0h-2.0zM137.8 100.8h2.0v2.0h-2.0zM168.7 101.0h2.0v2.0h-2.0zM136.9 103.1h2.0v2.0h-2.0zM139.8 80.2h2.0v2.0h-2.0zM142.1 108.8h2.0v2.0h-2.0zM153.3 98.8h2.0v2.0h-2.0zM140.2 87.1h2.0v2.0h-2.0zM163.0 102.9h2.0v2.0h-2.0zM140.0 74.7h2.0v2.0h-2.0zM138.0 99.1h2.0v2.0h-2.0zM151.6 98.1h2.0v2.0h-2.0zM146.7 83.5h2.0v2.0h-2.0zM139.0 120.3h2.0v2.0h-2.0zM141.9 110.1h2.0v2.0h-2.0zM152.1 112.4h2.0v2.0h-2.0zM138.3 107.1h2.0v2.0h-2.0zM153.4 91.1h2.0v2.0h-2.0zM154.3 89.2h2.0v2.0h-2.0zM141.5 99.8h2.0v2.0h-2.0zM139.5 82.4h2.0v2.0h-2.0zM145.2 109.2h2.0v2.0h-2.0zM145.5 115.2h2.0v2.0h-2.0zM137.9 84.3h2.0v2.0h-2.0zM165.0 104.8h2.0v2.0h-2.0zM159.0 90.1h2.0v2.0h-2.0zM157.5 103.1h2.0v2.0h-2.0zM156.0 100.3h2.0v2.0h-2.0zM161.6 92.2h2.0v2.0h-2.0zM139.9 82.3h2.0v2.0h-2.0zM161.1 91.1h2.0v2.0h-2.0zM139.1 88.7h2.0v2.0h-2.0zM145.0 84.7h2.0v2.0h-2.0zM146.6 92.5h2.0v2.0h-2.0zM144.0 88.5h2.0v2.0h-2.0zM149.9 94.5h2.0v2.0h-2.0zM150.6 103.0h2.0v2.0h-2.0zM152.9 73.7h2.0v2.0h-2.0zM144.1 90.4h2.0v2.0h-2.0zM157.2 81.1h2.0v2.0h-2.0zM142.4 96.5h2.0v2.0h-2.0zM146.1 111.9h2.0v2.0h-2.0zM145.1 111.6h2.0v2.0h-2.0zM161.7 105.2h2.0v2.0h-2.0zM154.4 101.5h2.0v2.0h-2.0zM154.3 85.4h2.0v2.0h-2.0zM159.0 93.6h2.0v2.0h-2.0zM159.4 101.1h2.0v2.0h-2.0zM160.8 98.4h2.0v2.0h-2.0zM145.5 102.9h2.0v2.0h-2.0zM145.2 93.5h2.0v2.0h-2.0zM150.5 101.7h2.0v2.0h-2.0zM164.7 100.5h2.0v2.0h-2.0zM166.7 112.7h2.0v2.0h-2.0zM150.8 101.6h2.0v2.0h-2.0zM148.1 91.2h2.0v2.0h-2.0zM148.8 92.3h2.0v2.0h-2.0zM165.9 106.4h2.0v2.0h-2.0zM145.0 77.0h2.0v2.0h-2.0zM149.0 95.0h2.0v2.0h-2.0zM138.6 86.4h2.0v2.0h-2.0zM149.2 98.2h2.0v2.0h-2.0zM163.9 101.6h2.0v2.0h-2.0zM151.2 95.5h2.0v2.0h-2.0zM143.4 118.0h2.0v2.0h-2.0zM159.5 120.6h2.0v2.0h-2.0zM146.0 100.4h2.0v2.0h-2.0zM140.7 111.6h2.0v2.0h-2.0zM160.5 116.9h2.0v2.0h-2.0zM140.1 113.1h2.0v2.0h-2.0zM142.4 90.9h2.0v2.0h-2.0zM136.3 113.9h2.0v2.0h-2.0zM166.0 92.9h2.0v2.0h-2.0zM141.9 95.9h2.0v2.0h-2.0zM174.6 112.1h2.0v2.0h-2.0zM144.1 78.5h2.0v2.0h-2.0zM142.8 114.2h2.0v2.0h-2.0zM168.2 96.8h2.0v2.0h-2.0zM142.6 93.9h2.0v2.0h-2.0zM138.6 112.8h2.0v2.0h-2.0zM152.4 90.8h2.0v2.0h-2.0zM157.3 100.1h2.0v2.0h-2.0zM137.8 107.5h2.0v2.0h-2.0zM157.9 77.0h2.0v2.0h-2.0zM167.8 106.0h2.0v2.0h-2.0zM157.1 77.7h2.0v2.0h-2.0zM142.3 95.8h2.0v2.0h-2.0zM160.3 82.5h2.0v2.0h-2.0zM140.7 75.6h2.0v2.0h-2.0zM147.1 104.2h2.0v2.0h-2.0zM154.6 119.0h2.0v2.0h-2.0zM156.1 96.4h2.0v2.0h-2.0zM137.7 88.8h2.0v2.0h-2.0zM142.9 101.8h2.0v2.0h-2.0zM149.0 120.0h2.0v2.0h-2.0zM152.4 87.1h2.0v2.0h-2.0zM164.9 111.4h2.0v2.0h-2.0zM150.5 91.3h2.0v2.0h-2.0zM158.6 90.4h2.0v2.0h-2.0zM136.3 102.3h2.0v2.0h-2.0zM151.9 107.3h2.0v2.0h-2.0zM156.1 116.9h2.0v2.0h-2.0zM141.1 111.7h2.0v2.0h-2.0zM139.6 108.3h2.0v2.0h-2.0zM151.3 102.9h2.0v2.0h-2.0zM159.2 99.8h2.0v2.0h-2.0zM160.6 110.5h2.0v2.0h-2.0zM150.9 93.2h2.0v2.0h-2.0zM142.0 93.7h2.0v2.0h-2.0zM147.5 99.7h2.0v2.0h-2.0zM179.3 107.7h2.0v2.0h-2.0zM157.2 89.7h2.0v2.0h-2.0zM142.4 96.2h2.0v2.0h-2.0zM151.4 87.6h2.0v2.0h-2.0zM165.6 93.2h2.0v2.0h-2.0zM160.3 72.0h2.0v2.0h-2.0zM149.4 103.3h2.0v2.0h-2.0zM151.4 107.2h2.0v2.0h-2.0zM152.3 101.9h2.0v2.0h-2.0zM152.6 97.7h2.0v2.0h-2.0zM141.3 93.0h2.0v2.0h-2.0zM148.9 115.5h2.0v2.0h-2.0zM144.7 89.5h2.0v2.0h-2.0zM143.9 102.3h2.0v2.0h-2.0zM179.7 92.1h2.0v2.0h-2.0zM150.0 103.3h2.0v2.0h-2.0zM149.2 111.2h2.0v2.0h-2.0zM167.3 85.1h2.0v2.0h-2.0zM151.1 96.8h2.0v2.0h-2.0zM153.1 81.6h2.0v2.0h-2.0zM154.8 102.3h2.0v2.0h-2.0zM150.2 71.6h2.0v2.0h-2.0zM145.8 90.9h2.0v2.0h-2.0zM156.5 106.5h2.0v2.0h-2.0zM149.3 106.2h2.0v2.0h-2.0zM143.5 100.9h2.0v2.0h-2.0zM149.9 106.7h2.0v2.0h-2.0zM148.8 98.3h2.0v2.0h-2.0zM148.2 92.3h2.0v2.0h-2.0zM171.8 106.2h2.0v2.0h-2.0zM163.5 81.3h2.0v2.0h-2.0zM156.5 110.1h2.0v2.0h-2.0zM168.3 115.8h2.0v2.0h-2.0zM157.2 85.9h2.0v2.0h-2.0zM140.8 103.2h2.0v2.0h-2.0zM154.5 87.7h2.0v2.0h-2.0zM145.7 95.2h2.0v2.0h-2.0zM150.1 104.0h2.0v2.0h-2.0zM146.6 85.2h2.0v2.0h-2.0zM161.9 119.2h2.0v2.0h-2.0zM148.4 112.3h2.0v2.0h-2.0zM153.9 107.9h2.0v2.0h-2.0zM154.3 90.8h2.0v2.0h-2.0zM155.2 112.1h2.0v2.0h-2.0zM169.4 108.9h2.0v2.0h-2.0zM146.1 92.8h2.0v2.0h-2.0zM141.4 101.4h2.0v2.0h-2.0zM149.2 108.0h2.0v2.0h-2.0zM172.3 99.7h2.0v2.0h-2.0zM156.3 105.7h2.0v2.0h-2.0zM152.2 97.5h2.0v2.0h-2.0zM148.3 90.1h2.0v2.0h-2.0zM151.3 99.7h2.0v2.0h-2.0zM152.7 89.7h2.0v2.0h-2.0zM149.9 100.6h2.0v2.0h-2.0zM155.5 87.2h2.0v2.0h-2.0zM153.7 111.8h2.0v2.0h-2.0zM155.5 95.6h2.0v2.0h-2.0zM144.6 97.2h2.0v2.0h-2.0zM156.8 118.6h2.0v2.0h-2.0zM147.9 92.3h2.0v2.0h-2.0zM153.3 102.5h2.0v2.0h-2.0zM140.4 91.2h2.0v2.0h-2.0zM148.5 108.1h2.0v2.0h-2.0zM137.6 87.8h2.0v2.0h-2.0zM154.5 85.3h2.0v2.0h-2.0zM150.6 104.2h2.0v2.0h-2.0zM148.4 87.8h2.0v2.0h-2.0zM148.9 96.0h2.0v2.0h-2.0zM152.9 89.9h2.0v2.0h-2.0zM160.4 79.9h2.0v2.0h-2.0zM147.7 100.1h2.0v2.0h-2.0zM159.1 92.7h2.0v2.0h-2.0zM155.0 93.2h2.0v2.0h-2.0zM145.5 105.3h2.0v2.0h-2.0zM140.2 111.7h2.0v2.0h-2.0zM161.6 100.4h2.0v2.0h-2.0zM138.2 104.8h2.0v2.0h-2.0zM161.0 113.1h2.0v2.0h-2.0zM157.6 78.0h2.0v2.0h-2.0zM142.7 117.1h2.0v2.0h-2.0zM137.2 113.6h2.0v2.0h-2.0zM168.3 109.1h2.0v2.0h-2.0zM160.7 96.0h2.0v2.0h-2.0zM137.2 98.8h2.0v2.0h-2.0zM147.5 99.4h2.0v2.0h-2.0zM156.5 98.3h2.0v2.0h-2.0zM151.4 105.1h2.0v2.0h-2.0zM153.9 101.0h2.0v2.0h-2.0zM147.4 92.5h2.0v2.0h-2.0zM162.9 101.8h2.0v2.0h-2.0zM138.7 93.3h2.0v2.0h-2.0zM148.1 94.7h2.0v2.0h-2.0zM160.3 86.1h2.0v2.0h-2.0zM154.4 101.7h2.0v2.0h-2.0zM137.7 100.6h2.0v2.0h-2.0zM148.6 106.0h2.0v2.0h-2.0zM145.0 103.6h2.0v2.0h-2.0zM157.3 112.5h2.0v2.0h-2.0zM149.4 92.8h2.0v2.0h-2.0zM160.3 74.9h2.0v2.0h-2.0zM141.5 108.1h2.0v2.0h-2.0zM156.0 87.6h2.0v2.0h-2.0zM151.0 89.2h2.0v2.0h-2.0zM150.0 110.8h2.0v2.0h-2.0zM156.9 75.0h2.0v2.0h-2.0zM167.0 92.8h2.0v2.0h-2.0zM168.0 110.2h2.0v2.0h-2.0zM170.9 102.1h2.0v2.0h-2.0zM165.0 115.4h2.0v2.0h-2.0zM163.3 101.4h2.0v2.0h-2.0zM164.0 106.4h2.0v2.0h-2.0zM162.2 110.9h2.0v2.0h-2.0zM166.4 107.6h2.0v2.0h-2.0zM169.4 104.4h2.0v2.0h-2.0zM168.4 102.6h2.0v2.0h-2.0zM167.0 91.5h2.0v2.0h-2.0zM165.5 105.6h2.0v2.0h-2.0zM163.7 102.1h2.0v2.0h-2.0zM164.1 101.2h2.0v2.0h-2.0zM159.3 102.2h2.0v2.0h-2.0zM163.6 102.8h2.0v2.0h-2.0zM162.2 105.9h2.0v2.0h-2.0zM167.0 105.0h2.0v2.0h-2.0zM163.7 117.9h2.0v2.0h-2.0zM167.5 114.4h2.0v2.0h-2.0zM168.0 104.4h2.0v2.0h-2.0zM164.7 115.9h2.0v2.0h-2.0zM163.6 106.0h2.0v2.0h-2.0zM166.0 110.0h2.0v2.0h-2.0zM164.3 114.9h2.0v2.0h-2.0zM164.5 112.8h2.0v2.0h-2.0zM193.0 106.3h2.0v2.0h-2.0zM191.6 86.2h2.0v2.0h-2.0zM183.0 92.2h2.0v2.0h-2.0zM190.5 115.5h2.0v2.0h-2.0zM183.4 102.4h2.0v2.0h-2.0zM184.9 90.9h2.0v2.0h-2.0zM187.3 106.6h2.0v2.0h-2.0zM189.4 112.0h2.0v2.0h-2.0zM184.4 108.8h2.0v2.0h-2.0zM192.4 99.8h2.0v2.0h-2.0zM190.5 92.8h2.0v2.0h-2.0zM183.9 94.5h2.0v2.0h-2.0zM186.5 117.2h2.0v2.0h-2.0zM189.3 102.4h2.0v2.0h-2.0zM191.6 90.4h2.0v2.0h-2.0zM192.3 103.1h2.0v2.0h-2.0zM182.1 105.6h2.0v2.0h-2.0zM190.8 104.0h2.0v2.0h-2.0zM195.2 94.4h2.0v2.0h-2.0zM190.6 107.2h2.0v2.0h-2.0zM184.7 112.2h2.0v2.0h-2.0zM182.4 84.7h2.0v2.0h-2.0zM190.7 87.0h2.0v2.0h-2.0zM188.0 80.9h2.0v2.0h-2.0zM188.8 86.5h2.0v2.0h-2.0zM189.9 82.1h2.0v2.0h-2.0zM190.4 96.1h2.0v2.0h-2.0zM188.8 98.3h2.0v2.0h-2.0zM189.0 84.5h2.0v2.0h-2.0zM177.7 99.4h2.0v2.0h-2.0zM184.6 94.0h2.0v2.0h-2.0zM190.3 77.2h2.0v2.0h-2.0zM185.3 92.3h2.0v2.0h-2.0zM184.1 102.6h2.0v2.0h-2.0zM187.9 90.0h2.0v2.0h-2.0zM173.2 74.3h2.0v2.0h-2.0zM173.1 74.6h2.0v2.0h-2.0zM174.0 73.3h2.0v2.0h-2.0zM173.1 75.6h2.0v2.0h-2.0zM175.1 72.7h2.0v2.0h-2.0zM173.3 74.6h2.0v2.0h-2.0zM177.1 68.7h2.0v2.0h-2.0zM176.8 68.9h2.0v2.0h-2.0zM174.0 72.6h2.0v2.0h-2.0zM175.0 70.1h2.0v2.0h-2.0zM173.9 73.0h2.0v2.0h-2.0zM173.2 74.7h2.0v2.0h-2.0zM173.6 74.7h2.0v2.0h-2.0zM174.5 73.2h2.0v2.0h-2.0zM197.3 35.0h2.0v2.0h-2.0zM185.5 46.0h2.0v2.0h-2.0zM181.7 49.0h2.0v2.0h-2.0zM190.3 57.8h2.0v2.0h-2.0zM150.7 38.5h2.0v2.0h-2.0zM155.7 39.7h2.0v2.0h-2.0zM165.7 45.0h2.0v2.0h-2.0zM172.6 46.8h2.0v2.0h-2.0zM170.3 50.9h2.0v2.0h-2.0zM163.4 49.0h2.0v2.0h-2.0zM191.3 71.6h2.0v2.0h-2.0zM190.3 75.0h2.0v2.0h-2.0zM187.0 76.5h2.0v2.0h-2.0zM145.6 79.7h2.0v2.0h-2.0zM138.4 71.4h2.0v2.0h-2.0zM165.1 74.7h2.0v2.0h-2.0zM143.3 78.6h2.0v2.0h-2.0zM163.3 75.9h2.0v2.0h-2.0zM138.7 74.3h2.0v2.0h-2.0zM158.8 79.8h2.0v2.0h-2.0zM171.7 74.7h2.0v2.0h-2.0zM150.7 75.8h2.0v2.0h-2.0zM165.9 71.3h2.0v2.0h-2.0zM162.2 72.6h2.0v2.0h-2.0zM159.1 79.4h2.0v2.0h-2.0zM144.4 75.6h2.0v2.0h-2.0zM157.2 78.9h2.0v2.0h-2.0zM146.6 71.0h2.0v2.0h-2.0zM137.7 88.7h2.0v2.0h-2.0zM153.3 74.9h2.0v2.0h-2.0zM141.5 80.6h2.0v2.0h-2.0zM150.2 83.2h2.0v2.0h-2.0zM162.7 76.1h2.0v2.0h-2.0zM161.5 70.4h2.0v2.0h-2.0zM152.1 73.1h2.0v2.0h-2.0zM143.6 76.1h2.0v2.0h-2.0zM153.7 83.2h2.0v2.0h-2.0zM146.7 73.7h2.0v2.0h-2.0zM158.8 78.0h2.0v2.0h-2.0zM155.3 73.6h2.0v2.0h-2.0zM159.5 77.8h2.0v2.0h-2.0zM138.4 74.7h2.0v2.0h-2.0zM142.6 70.1h2.0v2.0h-2.0zM156.3 76.3h2.0v2.0h-2.0zM156.0 71.6h2.0v2.0h-2.0zM153.2 71.4h2.0v2.0h-2.0zM158.4 79.4h2.0v2.0h-2.0zM170.8 82.3h2.0v2.0h-2.0zM147.8 73.7h2.0v2.0h-2.0zM146.6 77.5h2.0v2.0h-2.0zM172.8 79.5h2.0v2.0h-2.0zM165.9 106.7h2.0v2.0h-2.0zM170.0 104.3h2.0v2.0h-2.0zM175.7 91.9h2.0v2.0h-2.0zM171.1 92.4h2.0v2.0h-2.0zM163.5 84.2h2.0v2.0h-2.0zM162.2 101.8h2.0v2.0h-2.0zM170.1 111.9h2.0v2.0h-2.0zM169.6 93.4h2.0v2.0h-2.0zM164.3 102.9h2.0v2.0h-2.0zM170.1 107.8h2.0v2.0h-2.0zM168.7 106.5h2.0v2.0h-2.0zM172.6 99.4h2.0v2.0h-2.0zM168.5 99.0h2.0v2.0h-2.0zM166.9 98.7h2.0v2.0h-2.0zM169.0 103.3h2.0v2.0h-2.0zM174.3 115.4h2.0v2.0h-2.0zM168.6 107.6h2.0v2.0h-2.0zM170.9 109.4h2.0v2.0h-2.0z" fill="#000"/>
<path d="M150.2 96.9h0.8v0.8h-0.8zM147.8 91.7h0.8v0.8h-0.8zM154.5 102.1h0.8v0.8h-0.8zM153.4 97.8h0.8v0.8h-0.8zM151.4 93.3h0.8v0.8h-0.8zM141.2 98.9h0.8v0.8h-0.8zM151.1 92.8h0.8v0.8h-0.8zM145.3 102.0h0.8v0.8h-0.8zM137.3 55.0h0.8v0.8h-0.8zM151.9 56.5h0.8v0.8h-0.8zM143.8 50.5h0.8v0.8h-0.8zM145.1 51.0h0.8v0.8h-0.8z" fill="#888"/>
<polygon points="233.5,98.8 235.4,97.6 240.0,96.4 245.5,94.8 250.0,93.2 254.9,90.8 258.0,88.8 261.6,86.2 265.0,83.8 268.4,81.3 272.0,78.8 275.4,76.6 276.2,78.4 275.0,82.5 273.4,86.0 271.8,89.2 270.3,92.6 269.0,96.0 267.0,102.7 265.7,107.0 264.3,110.8 262.7,115.0 260.9,118.8 258.9,122.4 233.5,122.4" fill="#000" stroke="#000" stroke-width="1" stroke-linejoin="round"/>
<path d="M235.8 95.5h2.0v2.0h-2.0zM236.8 95.5h2.0v2.0h-2.0zM236.6 96.4h2.0v2.0h-2.0zM237.8 96.6h2.0v2.0h-2.0zM236.6 96.3h2.0v2.0h-2.0zM240.8 95.3h2.0v2.0h-2.0zM242.8 95.0h2.0v2.0h-2.0zM244.3 92.3h2.0v2.0h-2.0zM244.2 94.5h2.0v2.0h-2.0zM238.7 94.3h2.0v2.0h-2.0zM239.9 95.5h2.0v2.0h-2.0zM242.9 95.8h2.0v2.0h-2.0zM240.6 94.5h2.0v2.0h-2.0zM246.1 92.9h2.0v2.0h-2.0zM247.9 92.7h2.0v2.0h-2.0zM245.4 94.2h2.0v2.0h-2.0zM246.9 93.4h2.0v2.0h-2.0zM248.0 94.2h2.0v2.0h-2.0zM246.9 92.3h2.0v2.0h-2.0zM246.2 92.4h2.0v2.0h-2.0zM249.7 91.0h2.0v2.0h-2.0zM251.9 91.9h2.0v2.0h-2.0zM252.5 90.9h2.0v2.0h-2.0zM249.7 91.4h2.0v2.0h-2.0zM253.5 89.7h2.0v2.0h-2.0zM251.4 91.4h2.0v2.0h-2.0zM253.0 90.6h2.0v2.0h-2.0zM252.0 90.8h2.0v2.0h-2.0zM255.9 86.9h2.0v2.0h-2.0zM255.6 88.6h2.0v2.0h-2.0zM255.2 88.8h2.0v2.0h-2.0zM257.7 88.9h2.0v2.0h-2.0zM253.6 88.3h2.0v2.0h-2.0zM255.9 86.5h2.0v2.0h-2.0zM258.7 86.0h2.0v2.0h-2.0zM256.7 88.3h2.0v2.0h-2.0zM257.6 87.7h2.0v2.0h-2.0zM259.3 85.4h2.0v2.0h-2.0zM257.0 87.1h2.0v2.0h-2.0zM263.4 83.5h2.0v2.0h-2.0zM264.3 83.9h2.0v2.0h-2.0zM262.1 83.5h2.0v2.0h-2.0zM263.8 84.4h2.0v2.0h-2.0zM261.3 84.1h2.0v2.0h-2.0zM263.9 83.6h2.0v2.0h-2.0zM265.3 82.2h2.0v2.0h-2.0zM265.4 83.3h2.0v2.0h-2.0zM266.1 82.1h2.0v2.0h-2.0zM265.3 82.0h2.0v2.0h-2.0zM266.7 82.8h2.0v2.0h-2.0zM267.6 81.6h2.0v2.0h-2.0zM270.6 77.7h2.0v2.0h-2.0zM268.7 79.3h2.0v2.0h-2.0zM271.1 79.0h2.0v2.0h-2.0zM268.4 77.3h2.0v2.0h-2.0zM269.7 79.3h2.0v2.0h-2.0zM269.3 80.2h2.0v2.0h-2.0zM273.7 76.4h2.0v2.0h-2.0zM274.2 74.9h2.0v2.0h-2.0zM271.9 76.0h2.0v2.0h-2.0zM273.3 76.6h2.0v2.0h-2.0zM273.5 76.7h2.0v2.0h-2.0zM271.8 77.7h2.0v2.0h-2.0zM275.6 76.3h2.0v2.0h-2.0zM275.4 75.6h2.0v2.0h-2.0zM276.0 76.9h2.0v2.0h-2.0zM275.0 80.0h2.0v2.0h-2.0zM275.6 80.4h2.0v2.0h-2.0zM273.0 78.8h2.0v2.0h-2.0zM275.9 78.0h2.0v2.0h-2.0zM275.0 78.1h2.0v2.0h-2.0zM275.1 79.7h2.0v2.0h-2.0zM273.1 84.1h2.0v2.0h-2.0zM272.5 83.6h2.0v2.0h-2.0zM272.5 81.7h2.0v2.0h-2.0zM272.9 85.2h2.0v2.0h-2.0zM272.6 82.8h2.0v2.0h-2.0zM274.3 82.5h2.0v2.0h-2.0zM273.4 86.2h2.0v2.0h-2.0zM273.0 87.4h2.0v2.0h-2.0zM271.5 86.7h2.0v2.0h-2.0zM270.8 86.7h2.0v2.0h-2.0zM272.4 86.6h2.0v2.0h-2.0zM269.6 91.1h2.0v2.0h-2.0zM270.0 91.3h2.0v2.0h-2.0zM269.5 90.6h2.0v2.0h-2.0zM269.1 91.2h2.0v2.0h-2.0zM269.2 89.4h2.0v2.0h-2.0zM269.2 93.3h2.0v2.0h-2.0zM267.8 94.5h2.0v2.0h-2.0zM268.2 94.9h2.0v2.0h-2.0zM268.6 94.3h2.0v2.0h-2.0zM268.7 94.5h2.0v2.0h-2.0zM266.7 95.7h2.0v2.0h-2.0zM267.6 95.7h2.0v2.0h-2.0zM267.8 97.2h2.0v2.0h-2.0zM266.6 99.4h2.0v2.0h-2.0zM266.0 101.3h2.0v2.0h-2.0zM266.0 100.9h2.0v2.0h-2.0zM264.8 100.9h2.0v2.0h-2.0zM267.8 95.6h2.0v2.0h-2.0zM267.4 96.7h2.0v2.0h-2.0zM267.0 99.6h2.0v2.0h-2.0zM263.6 105.5h2.0v2.0h-2.0zM265.9 103.6h2.0v2.0h-2.0zM265.1 105.3h2.0v2.0h-2.0zM264.3 106.0h2.0v2.0h-2.0zM265.3 104.3h2.0v2.0h-2.0zM265.4 101.4h2.0v2.0h-2.0zM264.7 109.0h2.0v2.0h-2.0zM263.2 105.9h2.0v2.0h-2.0zM265.6 105.9h2.0v2.0h-2.0zM264.6 107.8h2.0v2.0h-2.0zM263.2 109.0h2.0v2.0h-2.0zM265.8 107.0h2.0v2.0h-2.0zM262.4 110.4h2.0v2.0h-2.0zM261.9 113.0h2.0v2.0h-2.0zM260.7 113.2h2.0v2.0h-2.0zM262.1 113.2h2.0v2.0h-2.0zM263.3 112.0h2.0v2.0h-2.0zM262.0 113.3h2.0v2.0h-2.0zM261.9 113.6h2.0v2.0h-2.0zM260.5 115.6h2.0v2.0h-2.0zM258.9 118.2h2.0v2.0h-2.0zM261.2 116.6h2.0v2.0h-2.0zM262.1 114.2h2.0v2.0h-2.0zM262.0 114.8h2.0v2.0h-2.0zM258.3 119.1h2.0v2.0h-2.0zM260.2 119.1h2.0v2.0h-2.0zM260.1 119.1h2.0v2.0h-2.0zM243.7 47.2h2.0v2.0h-2.0zM235.2 46.2h2.0v2.0h-2.0zM248.0 45.3h2.0v2.0h-2.0zM238.1 45.6h2.0v2.0h-2.0zM240.1 48.1h2.0v2.0h-2.0zM245.1 44.3h2.0v2.0h-2.0zM248.9 46.3h2.0v2.0h-2.0zM239.9 49.6h2.0v2.0h-2.0zM242.1 45.4h2.0v2.0h-2.0zM239.7 46.2h2.0v2.0h-2.0zM238.0 46.7h2.0v2.0h-2.0zM246.4 47.7h2.0v2.0h-2.0zM236.4 51.2h2.0v2.0h-2.0zM238.1 47.4h2.0v2.0h-2.0zM242.6 48.3h2.0v2.0h-2.0zM241.0 47.9h2.0v2.0h-2.0zM251.8 47.3h2.0v2.0h-2.0zM237.7 47.7h2.0v2.0h-2.0zM239.0 46.7h2.0v2.0h-2.0zM243.3 47.7h2.0v2.0h-2.0zM241.2 48.4h2.0v2.0h-2.0zM241.6 45.3h2.0v2.0h-2.0zM246.4 46.7h2.0v2.0h-2.0zM247.9 46.3h2.0v2.0h-2.0zM245.0 47.7h2.0v2.0h-2.0zM237.6 49.2h2.0v2.0h-2.0zM247.3 47.9h2.0v2.0h-2.0zM245.5 46.5h2.0v2.0h-2.0zM242.5 47.5h2.0v2.0h-2.0zM244.4 48.2h2.0v2.0h-2.0zM241.6 46.2h2.0v2.0h-2.0zM240.0 47.8h2.0v2.0h-2.0zM235.2 45.4h2.0v2.0h-2.0zM240.7 46.4h2.0v2.0h-2.0zM241.3 43.4h2.0v2.0h-2.0zM241.0 46.8h2.0v2.0h-2.0zM245.9 44.3h2.0v2.0h-2.0zM241.1 47.9h2.0v2.0h-2.0zM244.7 48.9h2.0v2.0h-2.0zM247.2 45.7h2.0v2.0h-2.0zM245.3 46.7h2.0v2.0h-2.0zM239.0 49.4h2.0v2.0h-2.0zM239.7 46.0h2.0v2.0h-2.0zM240.7 46.0h2.0v2.0h-2.0zM247.0 47.7h2.0v2.0h-2.0zM248.7 47.8h2.0v2.0h-2.0zM239.8 48.7h2.0v2.0h-2.0zM239.6 46.5h2.0v2.0h-2.0zM241.8 47.3h2.0v2.0h-2.0zM247.8 46.3h2.0v2.0h-2.0zM244.1 47.2h2.0v2.0h-2.0zM236.9 45.6h2.0v2.0h-2.0zM241.5 47.8h2.0v2.0h-2.0zM243.9 47.9h2.0v2.0h-2.0zM242.7 46.6h2.0v2.0h-2.0zM244.4 45.8h2.0v2.0h-2.0zM236.5 46.7h2.0v2.0h-2.0zM285.4 94.4h2.0v2.0h-2.0zM286.9 94.2h2.0v2.0h-2.0zM288.5 92.4h2.0v2.0h-2.0zM287.7 86.1h2.0v2.0h-2.0zM288.9 91.9h2.0v2.0h-2.0zM289.5 78.4h2.0v2.0h-2.0zM286.8 99.7h2.0v2.0h-2.0zM283.2 95.5h2.0v2.0h-2.0zM288.8 98.7h2.0v2.0h-2.0zM285.3 99.6h2.0v2.0h-2.0zM288.9 91.2h2.0v2.0h-2.0zM290.3 97.7h2.0v2.0h-2.0zM288.6 94.9h2.0v2.0h-2.0zM289.8 98.7h2.0v2.0h-2.0zM291.1 101.1h2.0v2.0h-2.0zM287.2 96.4h2.0v2.0h-2.0zM290.6 95.5h2.0v2.0h-2.0zM289.4 101.6h2.0v2.0h-2.0zM288.2 81.8h2.0v2.0h-2.0zM288.9 99.5h2.0v2.0h-2.0zM288.9 92.7h2.0v2.0h-2.0zM291.3 97.1h2.0v2.0h-2.0zM287.2 93.0h2.0v2.0h-2.0zM289.4 90.4h2.0v2.0h-2.0zM286.4 111.9h2.0v2.0h-2.0zM291.5 105.3h2.0v2.0h-2.0zM291.6 102.1h2.0v2.0h-2.0zM284.9 106.3h2.0v2.0h-2.0zM291.4 101.4h2.0v2.0h-2.0zM284.2 106.7h2.0v2.0h-2.0zM291.6 94.6h2.0v2.0h-2.0zM288.9 103.4h2.0v2.0h-2.0zM288.4 105.7h2.0v2.0h-2.0zM288.8 102.8h2.0v2.0h-2.0zM288.8 87.7h2.0v2.0h-2.0zM286.4 120.1h2.0v2.0h-2.0zM289.2 107.1h2.0v2.0h-2.0zM291.1 110.0h2.0v2.0h-2.0zM289.8 93.8h2.0v2.0h-2.0zM288.6 84.6h2.0v2.0h-2.0zM288.2 104.3h2.0v2.0h-2.0zM283.8 99.4h2.0v2.0h-2.0zM290.4 107.3h2.0v2.0h-2.0zM286.5 93.4h2.0v2.0h-2.0zM284.4 90.9h2.0v2.0h-2.0zM289.8 112.5h2.0v2.0h-2.0zM286.0 107.6h2.0v2.0h-2.0zM289.6 94.5h2.0v2.0h-2.0zM293.5 80.4h2.0v2.0h-2.0zM288.4 99.5h2.0v2.0h-2.0zM293.4 110.6h2.0v2.0h-2.0zM293.7 98.9h2.0v2.0h-2.0zM290.8 107.5h2.0v2.0h-2.0zM289.7 100.5h2.0v2.0h-2.0zM288.2 95.1h2.0v2.0h-2.0zM285.9 111.6h2.0v2.0h-2.0zM287.6 83.4h2.0v2.0h-2.0zM289.2 97.8h2.0v2.0h-2.0zM289.0 110.7h2.0v2.0h-2.0zM288.4 96.1h2.0v2.0h-2.0zM286.9 97.8h2.0v2.0h-2.0zM287.6 99.4h2.0v2.0h-2.0zM295.6 100.8h2.0v2.0h-2.0zM286.7 111.5h2.0v2.0h-2.0zM290.5 103.7h2.0v2.0h-2.0zM290.2 103.7h2.0v2.0h-2.0zM290.1 107.9h2.0v2.0h-2.0zM290.9 107.4h2.0v2.0h-2.0zM287.5 98.0h2.0v2.0h-2.0zM287.0 104.7h2.0v2.0h-2.0zM290.5 94.7h2.0v2.0h-2.0zM289.9 116.4h2.0v2.0h-2.0zM291.4 90.2h2.0v2.0h-2.0zM288.4 102.5h2.0v2.0h-2.0zM288.5 100.7h2.0v2.0h-2.0zM291.2 100.3h2.0v2.0h-2.0zM286.1 103.0h2.0v2.0h-2.0zM288.4 98.8h2.0v2.0h-2.0zM287.3 88.3h2.0v2.0h-2.0zM285.8 95.5h2.0v2.0h-2.0zM286.2 79.0h2.0v2.0h-2.0zM291.2 89.9h2.0v2.0h-2.0zM287.0 101.7h2.0v2.0h-2.0zM283.2 107.4h2.0v2.0h-2.0zM286.9 102.6h2.0v2.0h-2.0zM287.5 100.1h2.0v2.0h-2.0zM288.8 98.0h2.0v2.0h-2.0zM284.5 87.7h2.0v2.0h-2.0zM288.5 107.9h2.0v2.0h-2.0zM287.4 101.7h2.0v2.0h-2.0zM289.0 101.4h2.0v2.0h-2.0zM290.8 87.5h2.0v2.0h-2.0zM289.2 96.8h2.0v2.0h-2.0zM287.9 92.0h2.0v2.0h-2.0zM286.8 90.8h2.0v2.0h-2.0zM286.1 115.6h2.0v2.0h-2.0zM292.4 98.1h2.0v2.0h-2.0zM290.3 91.2h2.0v2.0h-2.0zM282.4 85.2h2.0v2.0h-2.0zM288.9 108.1h2.0v2.0h-2.0zM288.5 91.0h2.0v2.0h-2.0zM288.1 91.0h2.0v2.0h-2.0zM285.5 96.4h2.0v2.0h-2.0zM287.7 92.3h2.0v2.0h-2.0zM286.6 91.5h2.0v2.0h-2.0zM289.1 107.8h2.0v2.0h-2.0zM288.1 113.7h2.0v2.0h-2.0zM285.0 99.9h2.0v2.0h-2.0zM286.0 96.9h2.0v2.0h-2.0zM288.8 101.9h2.0v2.0h-2.0zM290.2 95.0h2.0v2.0h-2.0zM287.2 97.0h2.0v2.0h-2.0zM289.2 94.3h2.0v2.0h-2.0zM289.9 107.0h2.0v2.0h-2.0zM287.0 99.9h2.0v2.0h-2.0zM290.1 87.7h2.0v2.0h-2.0zM289.1 96.8h2.0v2.0h-2.0zM287.0 105.1h2.0v2.0h-2.0zM289.1 95.4h2.0v2.0h-2.0zM289.4 101.4h2.0v2.0h-2.0zM289.8 101.1h2.0v2.0h-2.0zM289.3 91.7h2.0v2.0h-2.0zM288.3 98.7h2.0v2.0h-2.0zM285.3 109.4h2.0v2.0h-2.0zM288.3 92.3h2.0v2.0h-2.0zM286.5 99.3h2.0v2.0h-2.0zM288.8 94.9h2.0v2.0h-2.0zM288.3 93.2h2.0v2.0h-2.0zM287.9 97.5h2.0v2.0h-2.0zM288.0 101.6h2.0v2.0h-2.0zM288.6 98.7h2.0v2.0h-2.0zM289.3 104.8h2.0v2.0h-2.0zM289.6 99.2h2.0v2.0h-2.0zM288.6 93.7h2.0v2.0h-2.0zM288.4 101.7h2.0v2.0h-2.0zM289.1 95.9h2.0v2.0h-2.0zM287.1 89.8h2.0v2.0h-2.0zM289.2 103.5h2.0v2.0h-2.0zM289.3 90.6h2.0v2.0h-2.0zM288.5 99.2h2.0v2.0h-2.0zM271.0 35.0h2.0v2.0h-2.0zM297.5 34.6h2.0v2.0h-2.0zM317.3 40.0h2.0v2.0h-2.0zM260.0 40.0h2.0v2.0h-2.0zM256.0 41.0h2.0v2.0h-2.0zM271.0 40.0h2.0v2.0h-2.0zM272.5 44.0h2.0v2.0h-2.0zM253.0 46.0h2.0v2.0h-2.0zM256.0 47.0h2.0v2.0h-2.0zM259.0 50.0h2.0v2.0h-2.0zM274.0 51.0h2.0v2.0h-2.0zM255.0 56.0h2.0v2.0h-2.0zM250.0 57.5h2.0v2.0h-2.0zM252.0 60.0h2.0v2.0h-2.0zM258.0 60.5h2.0v2.0h-2.0zM289.0 62.0h2.0v2.0h-2.0zM254.0 66.8h2.0v2.0h-2.0zM280.5 67.5h2.0v2.0h-2.0zM285.5 71.0h2.0v2.0h-2.0zM260.0 72.0h2.0v2.0h-2.0zM236.0 74.0h2.0v2.0h-2.0zM262.0 71.0h2.0v2.0h-2.0zM290.0 75.0h2.0v2.0h-2.0zM281.0 80.0h2.0v2.0h-2.0zM298.5 83.5h2.0v2.0h-2.0zM289.0 82.0h2.0v2.0h-2.0zM282.0 90.0h2.0v2.0h-2.0zM281.0 97.0h2.0v2.0h-2.0zM278.5 102.0h2.0v2.0h-2.0zM282.0 104.0h2.0v2.0h-2.0zM280.0 116.0h2.0v2.0h-2.0zM250.9 81.2h2.0v2.0h-2.0zM260.7 80.0h2.0v2.0h-2.0zM249.7 86.0h2.0v2.0h-2.0zM264.2 81.0h2.0v2.0h-2.0zM248.9 84.8h2.0v2.0h-2.0zM268.3 78.3h2.0v2.0h-2.0zM270.0 87.1h2.0v2.0h-2.0zM248.4 86.3h2.0v2.0h-2.0zM246.9 76.2h2.0v2.0h-2.0zM262.2 81.4h2.0v2.0h-2.0zM253.9 83.4h2.0v2.0h-2.0zM267.4 87.9h2.0v2.0h-2.0zM235.9 85.1h2.0v2.0h-2.0zM251.7 82.9h2.0v2.0h-2.0zM265.2 82.1h2.0v2.0h-2.0zM252.0 90.1h2.0v2.0h-2.0zM250.8 83.4h2.0v2.0h-2.0zM253.4 89.0h2.0v2.0h-2.0zM259.1 87.6h2.0v2.0h-2.0zM249.5 75.7h2.0v2.0h-2.0zM259.5 84.4h2.0v2.0h-2.0zM262.7 88.1h2.0v2.0h-2.0zM239.3 78.8h2.0v2.0h-2.0zM237.8 88.9h2.0v2.0h-2.0zM238.7 76.5h2.0v2.0h-2.0zM262.1 84.6h2.0v2.0h-2.0zM237.0 86.6h2.0v2.0h-2.0zM260.6 83.2h2.0v2.0h-2.0zM237.0 86.7h2.0v2.0h-2.0zM250.0 84.9h2.0v2.0h-2.0zM270.9 88.9h2.0v2.0h-2.0zM266.4 77.5h2.0v2.0h-2.0zM247.0 83.8h2.0v2.0h-2.0zM235.2 91.8h2.0v2.0h-2.0zM244.9 79.5h2.0v2.0h-2.0zM246.3 79.3h2.0v2.0h-2.0zM265.9 84.4h2.0v2.0h-2.0zM253.4 82.1h2.0v2.0h-2.0zM236.8 80.2h2.0v2.0h-2.0zM266.2 88.6h2.0v2.0h-2.0zM273.3 101.7h2.0v2.0h-2.0zM265.4 96.4h2.0v2.0h-2.0zM269.4 104.7h2.0v2.0h-2.0zM268.6 107.7h2.0v2.0h-2.0zM270.0 104.5h2.0v2.0h-2.0zM272.6 100.2h2.0v2.0h-2.0zM274.0 109.5h2.0v2.0h-2.0zM263.6 103.2h2.0v2.0h-2.0zM269.4 105.6h2.0v2.0h-2.0zM269.8 103.4h2.0v2.0h-2.0zM266.3 115.7h2.0v2.0h-2.0zM266.5 113.5h2.0v2.0h-2.0zM272.6 110.4h2.0v2.0h-2.0zM268.5 119.3h2.0v2.0h-2.0zM268.3 117.8h2.0v2.0h-2.0zM263.7 106.3h2.0v2.0h-2.0zM270.7 96.3h2.0v2.0h-2.0zM273.4 96.9h2.0v2.0h-2.0zM270.2 99.7h2.0v2.0h-2.0zM274.1 109.6h2.0v2.0h-2.0zM272.6 108.0h2.0v2.0h-2.0zM271.1 112.5h2.0v2.0h-2.0zM266.5 100.5h2.0v2.0h-2.0zM273.1 98.8h2.0v2.0h-2.0zM274.0 100.4h2.0v2.0h-2.0zM264.2 97.5h2.0v2.0h-2.0z" fill="#000"/>
<path d="M255.2 119.5h0.8v0.8h-0.8zM246.0 113.1h0.8v0.8h-0.8zM242.0 118.5h0.8v0.8h-0.8zM252.7 102.0h0.8v0.8h-0.8zM237.0 113.9h0.8v0.8h-0.8zM236.6 117.0h0.8v0.8h-0.8zM242.9 103.7h0.8v0.8h-0.8zM250.2 105.6h0.8v0.8h-0.8zM249.6 102.0h0.8v0.8h-0.8zM258.4 105.7h0.8v0.8h-0.8zM256.6 101.9h0.8v0.8h-0.8zM255.6 120.2h0.8v0.8h-0.8zM245.4 99.3h0.8v0.8h-0.8zM245.1 112.7h0.8v0.8h-0.8z" fill="#777"/>
<polygon points="332.8,98.6 334.4,98.0 340.0,96.2 345.2,94.4 352.0,92.2 355.5,90.2 358.6,88.2 361.5,85.8 364.0,83.4 368.0,79.4 371.5,77.6 375.6,76.4 376.2,78.4 374.2,82.0 371.0,88.0 367.5,95.0 365.0,101.5 362.2,108.2 359.5,114.8 356.4,122.4 332.8,122.4" fill="#000" stroke="#000" stroke-width="1" stroke-linejoin="round"/>
<ellipse cx="388.6" cy="94.6" rx="3.2" ry="4.8" fill="#000"/>
<path d="M334.0 98.2h2.0v2.0h-2.0zM336.4 95.5h2.0v2.0h-2.0zM338.0 95.2h2.0v2.0h-2.0zM335.4 95.4h2.0v2.0h-2.0zM339.4 95.8h2.0v2.0h-2.0zM337.4 94.9h2.0v2.0h-2.0zM334.3 97.3h2.0v2.0h-2.0zM338.7 94.9h2.0v2.0h-2.0zM339.6 95.6h2.0v2.0h-2.0zM343.0 95.1h2.0v2.0h-2.0zM343.1 94.2h2.0v2.0h-2.0zM341.4 95.7h2.0v2.0h-2.0zM340.1 94.2h2.0v2.0h-2.0zM339.0 94.9h2.0v2.0h-2.0zM342.1 93.2h2.0v2.0h-2.0zM342.3 94.6h2.0v2.0h-2.0zM339.2 94.7h2.0v2.0h-2.0zM347.7 92.7h2.0v2.0h-2.0zM349.0 92.4h2.0v2.0h-2.0zM349.8 92.7h2.0v2.0h-2.0zM349.7 91.5h2.0v2.0h-2.0zM345.1 92.9h2.0v2.0h-2.0zM347.2 92.2h2.0v2.0h-2.0zM347.9 93.2h2.0v2.0h-2.0zM347.3 92.7h2.0v2.0h-2.0zM347.1 92.9h2.0v2.0h-2.0zM346.5 92.2h2.0v2.0h-2.0zM356.0 89.6h2.0v2.0h-2.0zM353.0 89.2h2.0v2.0h-2.0zM353.6 91.1h2.0v2.0h-2.0zM351.5 91.1h2.0v2.0h-2.0zM351.7 90.3h2.0v2.0h-2.0zM355.0 90.0h2.0v2.0h-2.0zM354.1 87.9h2.0v2.0h-2.0zM357.3 88.0h2.0v2.0h-2.0zM356.6 88.0h2.0v2.0h-2.0zM355.9 86.6h2.0v2.0h-2.0zM355.9 87.7h2.0v2.0h-2.0zM362.2 85.1h2.0v2.0h-2.0zM358.5 86.4h2.0v2.0h-2.0zM358.2 85.4h2.0v2.0h-2.0zM357.8 87.2h2.0v2.0h-2.0zM358.3 87.4h2.0v2.0h-2.0zM364.4 82.4h2.0v2.0h-2.0zM360.3 83.7h2.0v2.0h-2.0zM362.8 81.5h2.0v2.0h-2.0zM359.9 83.2h2.0v2.0h-2.0zM363.5 83.6h2.0v2.0h-2.0zM365.5 82.8h2.0v2.0h-2.0zM365.7 79.3h2.0v2.0h-2.0zM367.9 78.4h2.0v2.0h-2.0zM366.7 78.2h2.0v2.0h-2.0zM364.0 80.6h2.0v2.0h-2.0zM366.6 78.8h2.0v2.0h-2.0zM364.9 78.2h2.0v2.0h-2.0zM364.8 81.7h2.0v2.0h-2.0zM368.2 77.5h2.0v2.0h-2.0zM367.1 78.2h2.0v2.0h-2.0zM369.7 76.8h2.0v2.0h-2.0zM368.4 78.0h2.0v2.0h-2.0zM369.0 75.2h2.0v2.0h-2.0zM369.6 77.1h2.0v2.0h-2.0zM373.6 75.2h2.0v2.0h-2.0zM373.7 74.7h2.0v2.0h-2.0zM370.4 76.6h2.0v2.0h-2.0zM371.3 75.7h2.0v2.0h-2.0zM372.3 76.1h2.0v2.0h-2.0zM370.4 77.6h2.0v2.0h-2.0zM374.9 77.0h2.0v2.0h-2.0zM374.5 75.1h2.0v2.0h-2.0zM375.1 76.3h2.0v2.0h-2.0zM375.3 80.2h2.0v2.0h-2.0zM374.6 80.1h2.0v2.0h-2.0zM374.7 80.4h2.0v2.0h-2.0zM374.6 79.1h2.0v2.0h-2.0zM375.1 78.9h2.0v2.0h-2.0zM373.8 82.4h2.0v2.0h-2.0zM372.7 82.0h2.0v2.0h-2.0zM373.5 81.8h2.0v2.0h-2.0zM370.6 86.6h2.0v2.0h-2.0zM371.4 81.1h2.0v2.0h-2.0zM370.2 85.4h2.0v2.0h-2.0zM370.2 86.1h2.0v2.0h-2.0zM369.3 85.4h2.0v2.0h-2.0zM371.4 82.2h2.0v2.0h-2.0zM370.8 83.1h2.0v2.0h-2.0zM366.1 93.4h2.0v2.0h-2.0zM368.0 94.4h2.0v2.0h-2.0zM366.8 91.5h2.0v2.0h-2.0zM368.4 91.4h2.0v2.0h-2.0zM368.1 92.4h2.0v2.0h-2.0zM371.1 87.5h2.0v2.0h-2.0zM368.6 87.5h2.0v2.0h-2.0zM368.8 88.2h2.0v2.0h-2.0zM367.5 92.8h2.0v2.0h-2.0zM368.2 88.8h2.0v2.0h-2.0zM365.7 92.7h2.0v2.0h-2.0zM363.3 99.8h2.0v2.0h-2.0zM364.5 98.0h2.0v2.0h-2.0zM364.8 94.4h2.0v2.0h-2.0zM364.3 99.5h2.0v2.0h-2.0zM365.6 97.0h2.0v2.0h-2.0zM365.0 99.4h2.0v2.0h-2.0zM366.1 95.1h2.0v2.0h-2.0zM364.6 100.2h2.0v2.0h-2.0zM366.2 95.8h2.0v2.0h-2.0zM365.3 96.2h2.0v2.0h-2.0zM362.7 102.7h2.0v2.0h-2.0zM361.2 107.5h2.0v2.0h-2.0zM360.0 107.1h2.0v2.0h-2.0zM362.3 104.1h2.0v2.0h-2.0zM363.6 100.6h2.0v2.0h-2.0zM361.8 103.1h2.0v2.0h-2.0zM362.1 103.7h2.0v2.0h-2.0zM362.2 105.1h2.0v2.0h-2.0zM363.3 102.0h2.0v2.0h-2.0zM361.0 105.7h2.0v2.0h-2.0zM358.6 114.0h2.0v2.0h-2.0zM359.7 107.3h2.0v2.0h-2.0zM358.1 112.4h2.0v2.0h-2.0zM360.5 109.0h2.0v2.0h-2.0zM357.8 112.7h2.0v2.0h-2.0zM357.6 113.5h2.0v2.0h-2.0zM358.8 112.8h2.0v2.0h-2.0zM358.7 112.9h2.0v2.0h-2.0zM357.9 112.8h2.0v2.0h-2.0zM359.7 111.4h2.0v2.0h-2.0zM358.2 116.7h2.0v2.0h-2.0zM357.7 116.7h2.0v2.0h-2.0zM355.8 118.8h2.0v2.0h-2.0zM358.4 114.7h2.0v2.0h-2.0zM354.5 119.5h2.0v2.0h-2.0zM355.6 119.1h2.0v2.0h-2.0zM356.8 118.4h2.0v2.0h-2.0zM356.0 118.1h2.0v2.0h-2.0zM358.6 116.3h2.0v2.0h-2.0zM345.4 47.3h2.0v2.0h-2.0zM338.9 38.7h2.0v2.0h-2.0zM346.5 43.3h2.0v2.0h-2.0zM344.4 44.9h2.0v2.0h-2.0zM347.3 43.7h2.0v2.0h-2.0zM352.0 46.1h2.0v2.0h-2.0zM347.6 47.8h2.0v2.0h-2.0zM350.1 47.2h2.0v2.0h-2.0zM336.5 44.2h2.0v2.0h-2.0zM354.1 47.4h2.0v2.0h-2.0zM347.7 47.4h2.0v2.0h-2.0zM341.9 44.0h2.0v2.0h-2.0zM341.8 49.4h2.0v2.0h-2.0zM346.8 51.2h2.0v2.0h-2.0zM347.4 51.5h2.0v2.0h-2.0zM347.2 42.5h2.0v2.0h-2.0zM353.5 47.0h2.0v2.0h-2.0zM350.8 46.6h2.0v2.0h-2.0zM343.4 46.5h2.0v2.0h-2.0zM339.5 42.5h2.0v2.0h-2.0zM340.6 44.5h2.0v2.0h-2.0zM338.4 45.7h2.0v2.0h-2.0zM346.5 52.0h2.0v2.0h-2.0zM354.0 45.9h2.0v2.0h-2.0zM349.3 45.4h2.0v2.0h-2.0zM346.9 45.9h2.0v2.0h-2.0zM342.3 46.2h2.0v2.0h-2.0zM337.7 47.3h2.0v2.0h-2.0zM343.6 42.8h2.0v2.0h-2.0zM343.2 47.6h2.0v2.0h-2.0zM341.7 47.4h2.0v2.0h-2.0zM347.8 50.6h2.0v2.0h-2.0zM339.7 45.7h2.0v2.0h-2.0zM347.5 50.4h2.0v2.0h-2.0zM346.3 48.2h2.0v2.0h-2.0zM337.8 44.3h2.0v2.0h-2.0zM353.2 45.2h2.0v2.0h-2.0zM355.6 43.8h2.0v2.0h-2.0zM343.6 41.3h2.0v2.0h-2.0zM348.1 46.8h2.0v2.0h-2.0zM354.9 46.5h2.0v2.0h-2.0zM343.8 41.8h2.0v2.0h-2.0zM344.6 48.8h2.0v2.0h-2.0zM348.7 49.6h2.0v2.0h-2.0zM349.3 45.9h2.0v2.0h-2.0zM348.0 46.5h2.0v2.0h-2.0zM338.4 51.1h2.0v2.0h-2.0zM346.8 42.9h2.0v2.0h-2.0zM346.9 46.9h2.0v2.0h-2.0zM349.9 50.3h2.0v2.0h-2.0zM352.6 43.2h2.0v2.0h-2.0zM335.8 46.8h2.0v2.0h-2.0zM346.7 47.0h2.0v2.0h-2.0zM339.5 44.6h2.0v2.0h-2.0zM346.0 48.2h2.0v2.0h-2.0zM355.8 46.9h2.0v2.0h-2.0zM342.0 39.0h2.0v2.0h-2.0zM350.3 45.6h2.0v2.0h-2.0zM344.5 43.1h2.0v2.0h-2.0zM348.6 40.7h2.0v2.0h-2.0zM345.5 46.4h2.0v2.0h-2.0zM388.2 98.5h2.0v2.0h-2.0zM387.3 94.0h2.0v2.0h-2.0zM389.5 87.8h2.0v2.0h-2.0zM386.8 93.9h2.0v2.0h-2.0zM389.7 90.6h2.0v2.0h-2.0zM389.3 95.0h2.0v2.0h-2.0zM384.1 88.0h2.0v2.0h-2.0zM384.2 94.1h2.0v2.0h-2.0zM388.0 96.3h2.0v2.0h-2.0zM389.4 91.5h2.0v2.0h-2.0zM389.9 96.7h2.0v2.0h-2.0zM388.6 95.4h2.0v2.0h-2.0zM384.6 95.0h2.0v2.0h-2.0zM385.1 89.1h2.0v2.0h-2.0zM386.7 94.1h2.0v2.0h-2.0zM387.4 92.4h2.0v2.0h-2.0zM385.2 94.3h2.0v2.0h-2.0zM385.8 88.3h2.0v2.0h-2.0zM387.7 99.1h2.0v2.0h-2.0zM386.6 89.6h2.0v2.0h-2.0zM390.7 100.1h2.0v2.0h-2.0zM386.8 92.8h2.0v2.0h-2.0zM388.0 104.8h2.0v2.0h-2.0zM387.8 97.4h2.0v2.0h-2.0zM388.5 86.7h2.0v2.0h-2.0zM385.0 88.9h2.0v2.0h-2.0zM388.5 94.0h2.0v2.0h-2.0zM391.6 92.6h2.0v2.0h-2.0zM388.2 93.9h2.0v2.0h-2.0zM387.8 102.4h2.0v2.0h-2.0zM388.2 99.2h2.0v2.0h-2.0zM390.5 91.3h2.0v2.0h-2.0zM389.1 92.2h2.0v2.0h-2.0zM387.8 94.2h2.0v2.0h-2.0zM387.5 91.8h2.0v2.0h-2.0zM391.1 92.6h2.0v2.0h-2.0zM389.1 100.0h2.0v2.0h-2.0zM388.9 97.5h2.0v2.0h-2.0zM390.7 97.7h2.0v2.0h-2.0zM391.4 88.2h2.0v2.0h-2.0zM392.0 93.7h2.0v2.0h-2.0zM383.5 91.2h2.0v2.0h-2.0zM384.3 93.5h2.0v2.0h-2.0zM384.1 89.8h2.0v2.0h-2.0zM388.2 94.2h2.0v2.0h-2.0zM385.7 92.7h2.0v2.0h-2.0zM387.3 93.9h2.0v2.0h-2.0zM387.5 92.8h2.0v2.0h-2.0zM389.5 87.5h2.0v2.0h-2.0zM386.4 94.1h2.0v2.0h-2.0zM386.6 91.5h2.0v2.0h-2.0zM386.5 94.4h2.0v2.0h-2.0zM390.4 92.9h2.0v2.0h-2.0zM386.9 95.0h2.0v2.0h-2.0zM386.9 86.3h2.0v2.0h-2.0zM388.1 92.2h2.0v2.0h-2.0zM386.2 96.0h2.0v2.0h-2.0zM387.6 91.5h2.0v2.0h-2.0zM382.5 87.1h2.0v2.0h-2.0zM387.5 93.2h2.0v2.0h-2.0zM388.5 94.4h2.0v2.0h-2.0zM386.4 88.8h2.0v2.0h-2.0zM385.0 93.1h2.0v2.0h-2.0zM384.9 96.5h2.0v2.0h-2.0zM384.5 86.8h2.0v2.0h-2.0zM387.1 86.9h2.0v2.0h-2.0zM391.2 89.8h2.0v2.0h-2.0zM387.4 92.7h2.0v2.0h-2.0zM385.6 86.9h2.0v2.0h-2.0zM383.2 96.9h2.0v2.0h-2.0zM389.8 101.8h2.0v2.0h-2.0zM384.1 95.7h2.0v2.0h-2.0zM387.5 96.8h2.0v2.0h-2.0zM386.3 96.3h2.0v2.0h-2.0zM389.6 95.9h2.0v2.0h-2.0zM390.8 92.9h2.0v2.0h-2.0zM391.1 90.9h2.0v2.0h-2.0zM391.3 83.2h2.0v2.0h-2.0zM387.5 90.6h2.0v2.0h-2.0zM387.5 97.5h2.0v2.0h-2.0zM389.2 94.0h2.0v2.0h-2.0zM391.4 88.0h2.0v2.0h-2.0zM385.6 99.3h2.0v2.0h-2.0zM388.3 85.7h2.0v2.0h-2.0zM388.3 89.1h2.0v2.0h-2.0zM390.9 97.9h2.0v2.0h-2.0zM386.2 98.5h2.0v2.0h-2.0zM385.6 97.1h2.0v2.0h-2.0zM388.8 93.1h2.0v2.0h-2.0zM384.2 92.5h2.0v2.0h-2.0zM382.2 91.5h2.0v2.0h-2.0zM383.2 98.2h2.0v2.0h-2.0zM385.3 84.4h2.0v2.0h-2.0zM388.8 95.0h2.0v2.0h-2.0zM386.3 101.6h2.0v2.0h-2.0zM389.3 93.9h2.0v2.0h-2.0zM386.0 82.4h2.0v2.0h-2.0zM388.6 97.2h2.0v2.0h-2.0zM386.1 88.2h2.0v2.0h-2.0zM387.4 87.2h2.0v2.0h-2.0zM387.5 96.5h2.0v2.0h-2.0zM391.0 94.6h2.0v2.0h-2.0zM388.0 96.4h2.0v2.0h-2.0zM390.7 92.4h2.0v2.0h-2.0zM384.7 90.6h2.0v2.0h-2.0zM384.6 90.2h2.0v2.0h-2.0zM387.2 94.9h2.0v2.0h-2.0zM387.9 93.9h2.0v2.0h-2.0zM386.7 95.2h2.0v2.0h-2.0zM389.5 96.5h2.0v2.0h-2.0zM392.6 93.4h2.0v2.0h-2.0zM386.6 111.3h2.0v2.0h-2.0zM388.2 99.7h2.0v2.0h-2.0zM386.4 104.7h2.0v2.0h-2.0zM386.1 86.9h2.0v2.0h-2.0zM387.3 92.0h2.0v2.0h-2.0zM390.3 92.6h2.0v2.0h-2.0zM387.9 94.0h2.0v2.0h-2.0zM388.7 90.3h2.0v2.0h-2.0zM391.3 83.2h2.0v2.0h-2.0zM386.2 89.6h2.0v2.0h-2.0zM389.7 96.4h2.0v2.0h-2.0zM389.1 93.0h2.0v2.0h-2.0zM385.1 85.9h2.0v2.0h-2.0zM386.4 91.2h2.0v2.0h-2.0zM388.5 99.2h2.0v2.0h-2.0zM390.8 95.0h2.0v2.0h-2.0zM385.0 86.5h2.0v2.0h-2.0zM387.7 99.2h2.0v2.0h-2.0zM394.1 97.6h2.0v2.0h-2.0zM393.5 112.9h2.0v2.0h-2.0zM383.9 106.9h2.0v2.0h-2.0zM391.4 108.1h2.0v2.0h-2.0zM387.5 104.6h2.0v2.0h-2.0zM385.9 95.4h2.0v2.0h-2.0zM387.6 112.0h2.0v2.0h-2.0zM386.8 104.6h2.0v2.0h-2.0zM387.7 89.6h2.0v2.0h-2.0zM388.3 101.9h2.0v2.0h-2.0zM385.1 101.7h2.0v2.0h-2.0zM385.1 88.1h2.0v2.0h-2.0zM388.2 93.9h2.0v2.0h-2.0zM384.2 81.3h2.0v2.0h-2.0zM387.6 98.2h2.0v2.0h-2.0zM385.9 97.7h2.0v2.0h-2.0zM382.3 99.5h2.0v2.0h-2.0zM388.9 98.5h2.0v2.0h-2.0zM385.4 96.7h2.0v2.0h-2.0zM387.9 105.6h2.0v2.0h-2.0zM388.4 98.3h2.0v2.0h-2.0zM386.0 34.8h2.0v2.0h-2.0zM392.0 34.8h2.0v2.0h-2.0zM356.5 36.0h2.0v2.0h-2.0zM336.0 39.0h2.0v2.0h-2.0zM335.0 49.0h2.0v2.0h-2.0zM336.0 56.0h2.0v2.0h-2.0zM361.0 56.0h2.0v2.0h-2.0zM357.0 62.0h2.0v2.0h-2.0zM353.0 65.8h2.0v2.0h-2.0zM386.0 66.0h2.0v2.0h-2.0zM384.0 69.0h2.0v2.0h-2.0zM380.0 71.0h2.0v2.0h-2.0zM353.0 70.5h2.0v2.0h-2.0zM362.0 72.0h2.0v2.0h-2.0zM349.0 74.0h2.0v2.0h-2.0zM359.0 75.0h2.0v2.0h-2.0zM341.0 77.0h2.0v2.0h-2.0zM352.0 79.0h2.0v2.0h-2.0zM344.0 84.0h2.0v2.0h-2.0zM336.0 86.0h2.0v2.0h-2.0zM390.0 79.0h2.0v2.0h-2.0zM385.0 83.0h2.0v2.0h-2.0zM378.0 93.0h2.0v2.0h-2.0zM380.0 100.0h2.0v2.0h-2.0zM380.0 109.0h2.0v2.0h-2.0zM382.0 104.0h2.0v2.0h-2.0zM388.0 112.0h2.0v2.0h-2.0zM386.0 117.0h2.0v2.0h-2.0zM391.0 106.0h2.0v2.0h-2.0zM366.1 109.3h2.0v2.0h-2.0zM374.1 111.2h2.0v2.0h-2.0zM362.0 103.9h2.0v2.0h-2.0zM371.4 111.4h2.0v2.0h-2.0zM373.2 120.2h2.0v2.0h-2.0zM373.0 101.4h2.0v2.0h-2.0zM374.2 110.5h2.0v2.0h-2.0zM364.4 102.8h2.0v2.0h-2.0zM373.1 103.7h2.0v2.0h-2.0zM362.2 104.8h2.0v2.0h-2.0zM373.9 109.1h2.0v2.0h-2.0zM371.2 100.6h2.0v2.0h-2.0zM367.3 106.0h2.0v2.0h-2.0zM363.9 113.6h2.0v2.0h-2.0zM366.1 101.6h2.0v2.0h-2.0zM374.8 109.6h2.0v2.0h-2.0zM363.5 99.2h2.0v2.0h-2.0zM370.1 110.3h2.0v2.0h-2.0zM361.3 109.3h2.0v2.0h-2.0zM371.4 110.8h2.0v2.0h-2.0zM364.3 110.0h2.0v2.0h-2.0zM369.5 113.3h2.0v2.0h-2.0zM363.0 116.7h2.0v2.0h-2.0zM374.2 115.3h2.0v2.0h-2.0zM373.0 107.1h2.0v2.0h-2.0zM373.6 103.0h2.0v2.0h-2.0zM364.2 112.2h2.0v2.0h-2.0zM373.6 100.8h2.0v2.0h-2.0zM345.1 71.6h2.0v2.0h-2.0zM351.3 73.5h2.0v2.0h-2.0zM344.4 84.5h2.0v2.0h-2.0zM355.3 87.9h2.0v2.0h-2.0zM350.3 83.2h2.0v2.0h-2.0zM339.4 88.1h2.0v2.0h-2.0zM345.5 79.6h2.0v2.0h-2.0zM353.3 88.1h2.0v2.0h-2.0zM352.8 88.9h2.0v2.0h-2.0zM356.4 74.9h2.0v2.0h-2.0zM362.3 74.6h2.0v2.0h-2.0zM367.0 79.2h2.0v2.0h-2.0zM345.3 88.3h2.0v2.0h-2.0zM348.0 78.3h2.0v2.0h-2.0zM348.6 83.0h2.0v2.0h-2.0zM339.6 77.7h2.0v2.0h-2.0zM343.5 85.9h2.0v2.0h-2.0zM339.0 81.9h2.0v2.0h-2.0zM346.2 79.2h2.0v2.0h-2.0zM354.7 83.8h2.0v2.0h-2.0zM342.9 75.3h2.0v2.0h-2.0zM342.4 88.3h2.0v2.0h-2.0zM343.2 73.5h2.0v2.0h-2.0zM353.6 81.5h2.0v2.0h-2.0z" fill="#000"/>
<path d="M354.1 100.8h0.8v0.8h-0.8zM339.8 103.1h0.8v0.8h-0.8zM347.5 109.1h0.8v0.8h-0.8zM343.6 118.3h0.8v0.8h-0.8zM349.2 117.7h0.8v0.8h-0.8zM355.7 105.2h0.8v0.8h-0.8zM355.3 108.2h0.8v0.8h-0.8zM335.7 118.8h0.8v0.8h-0.8zM336.9 100.0h0.8v0.8h-0.8zM341.0 105.7h0.8v0.8h-0.8zM355.9 117.9h0.8v0.8h-0.8zM343.8 110.7h0.8v0.8h-0.8zM353.3 116.5h0.8v0.8h-0.8z" fill="#777"/>
<polygon points="432.6,44.0 434.0,41.6 439.0,40.4 446.0,40.1 452.0,41.0 455.6,43.5 457.0,47.5 456.0,51.6 452.3,54.8 446.0,56.2 439.0,55.8 434.0,54.3 432.6,52.0" fill="#000"/>
<clipPath id="c5"><rect x="432.8" y="66" width="86" height="56.4"/></clipPath>
<g clip-path="url(#c5)">
<ellipse cx="449" cy="104.2" rx="13.3" ry="20.3" fill="#000"/>
<ellipse cx="449.3" cy="103.5" rx="14.9" ry="21.9" fill="none" stroke="#000" stroke-width="1.3" stroke-dasharray="11 1 6 0.8 8 1.2"/>
<ellipse cx="449.6" cy="102.8" rx="16.8" ry="23.6" fill="none" stroke="#000" stroke-width="1.0" stroke-dasharray="7 1.2 10 1 5 1.2"/>
<path d="M432.8 104 L437 102 L438 122.4 L432.8 122.4Z" fill="#000"/>
<ellipse cx="485.2" cy="96.8" rx="6.3" ry="17.6" fill="#000"/>
<ellipse cx="486" cy="97.3" rx="7.7" ry="18.9" fill="none" stroke="#000" stroke-width="0.8" stroke-dasharray="9 1.2 5 1"/>
<ellipse cx="486.6" cy="97.7" rx="8.9" ry="20" fill="none" stroke="#111" stroke-width="0.7" stroke-dasharray="6 1.5 9 1.2"/>
<path d="M481.6 110 L489 110 L485.6 121.2 L483.8 121.2Z" fill="#000"/>
</g>
<path d="M434.5 39.8h2.0v2.0h-2.0zM433.5 43.4h2.0v2.0h-2.0zM432.9 42.8h2.0v2.0h-2.0zM434.3 41.1h2.0v2.0h-2.0zM435.5 39.7h2.0v2.0h-2.0zM436.0 39.0h2.0v2.0h-2.0zM436.4 39.7h2.0v2.0h-2.0zM434.8 38.8h2.0v2.0h-2.0zM437.1 41.8h2.0v2.0h-2.0zM437.0 40.6h2.0v2.0h-2.0zM438.0 40.3h2.0v2.0h-2.0zM445.2 38.7h2.0v2.0h-2.0zM442.3 40.1h2.0v2.0h-2.0zM443.8 39.6h2.0v2.0h-2.0zM439.5 39.6h2.0v2.0h-2.0zM438.2 39.9h2.0v2.0h-2.0zM436.8 38.4h2.0v2.0h-2.0zM441.2 40.3h2.0v2.0h-2.0zM441.5 40.1h2.0v2.0h-2.0zM437.9 38.9h2.0v2.0h-2.0zM442.0 39.0h2.0v2.0h-2.0zM443.1 38.2h2.0v2.0h-2.0zM449.8 39.6h2.0v2.0h-2.0zM449.4 40.4h2.0v2.0h-2.0zM448.6 38.9h2.0v2.0h-2.0zM449.8 39.6h2.0v2.0h-2.0zM443.8 38.8h2.0v2.0h-2.0zM446.7 39.4h2.0v2.0h-2.0zM446.0 39.2h2.0v2.0h-2.0zM446.3 40.6h2.0v2.0h-2.0zM451.3 40.0h2.0v2.0h-2.0zM451.1 39.9h2.0v2.0h-2.0zM451.5 40.7h2.0v2.0h-2.0zM451.9 41.1h2.0v2.0h-2.0zM451.6 40.4h2.0v2.0h-2.0zM450.4 39.3h2.0v2.0h-2.0zM452.3 39.3h2.0v2.0h-2.0zM451.7 40.9h2.0v2.0h-2.0zM454.1 42.2h2.0v2.0h-2.0zM454.5 42.3h2.0v2.0h-2.0zM455.8 46.9h2.0v2.0h-2.0zM456.7 46.3h2.0v2.0h-2.0zM454.5 41.8h2.0v2.0h-2.0zM455.8 46.0h2.0v2.0h-2.0zM455.1 45.0h2.0v2.0h-2.0zM454.5 43.1h2.0v2.0h-2.0zM455.4 49.8h2.0v2.0h-2.0zM454.2 48.0h2.0v2.0h-2.0zM455.9 46.0h2.0v2.0h-2.0zM454.9 46.7h2.0v2.0h-2.0zM455.9 48.7h2.0v2.0h-2.0zM455.3 47.2h2.0v2.0h-2.0zM456.1 48.6h2.0v2.0h-2.0zM451.5 51.1h2.0v2.0h-2.0zM451.8 53.8h2.0v2.0h-2.0zM453.4 53.3h2.0v2.0h-2.0zM455.6 51.2h2.0v2.0h-2.0zM456.0 50.4h2.0v2.0h-2.0zM453.4 52.5h2.0v2.0h-2.0zM452.3 52.1h2.0v2.0h-2.0zM450.9 52.6h2.0v2.0h-2.0zM451.4 54.3h2.0v2.0h-2.0zM448.2 55.7h2.0v2.0h-2.0zM449.5 55.0h2.0v2.0h-2.0zM446.9 54.0h2.0v2.0h-2.0zM450.3 53.6h2.0v2.0h-2.0zM448.1 55.2h2.0v2.0h-2.0zM447.2 54.9h2.0v2.0h-2.0zM445.5 54.9h2.0v2.0h-2.0zM447.8 54.0h2.0v2.0h-2.0zM450.9 52.4h2.0v2.0h-2.0zM442.7 55.5h2.0v2.0h-2.0zM444.6 55.1h2.0v2.0h-2.0zM443.0 54.6h2.0v2.0h-2.0zM444.7 55.4h2.0v2.0h-2.0zM441.5 54.5h2.0v2.0h-2.0zM443.9 54.2h2.0v2.0h-2.0zM443.1 55.5h2.0v2.0h-2.0zM438.7 55.3h2.0v2.0h-2.0zM441.2 53.7h2.0v2.0h-2.0zM442.8 54.7h2.0v2.0h-2.0zM441.7 55.4h2.0v2.0h-2.0zM434.7 54.1h2.0v2.0h-2.0zM434.4 54.3h2.0v2.0h-2.0zM436.3 54.9h2.0v2.0h-2.0zM436.1 54.1h2.0v2.0h-2.0zM433.5 54.0h2.0v2.0h-2.0zM434.0 54.1h2.0v2.0h-2.0zM436.6 52.6h2.0v2.0h-2.0zM436.6 54.0h2.0v2.0h-2.0zM433.8 50.7h2.0v2.0h-2.0zM433.5 51.3h2.0v2.0h-2.0zM433.4 52.3h2.0v2.0h-2.0zM432.7 45.0h2.0v2.0h-2.0zM432.9 48.3h2.0v2.0h-2.0zM432.5 46.9h2.0v2.0h-2.0zM432.9 45.5h2.0v2.0h-2.0zM436.2 102.8h2.0v2.0h-2.0zM434.5 102.9h2.0v2.0h-2.0zM434.6 102.8h2.0v2.0h-2.0zM435.1 99.5h2.0v2.0h-2.0zM432.5 98.5h2.0v2.0h-2.0zM435.9 98.8h2.0v2.0h-2.0zM435.3 99.2h2.0v2.0h-2.0zM433.4 97.9h2.0v2.0h-2.0zM434.3 96.3h2.0v2.0h-2.0zM432.6 100.4h2.0v2.0h-2.0zM436.5 99.3h2.0v2.0h-2.0zM433.7 96.0h2.0v2.0h-2.0zM434.7 95.5h2.0v2.0h-2.0zM436.0 93.8h2.0v2.0h-2.0zM435.3 98.0h2.0v2.0h-2.0zM436.3 95.6h2.0v2.0h-2.0zM434.9 93.2h2.0v2.0h-2.0zM436.5 93.0h2.0v2.0h-2.0zM434.6 95.8h2.0v2.0h-2.0zM434.8 92.0h2.0v2.0h-2.0zM438.4 93.9h2.0v2.0h-2.0zM434.8 90.1h2.0v2.0h-2.0zM437.4 91.6h2.0v2.0h-2.0zM438.2 88.8h2.0v2.0h-2.0zM437.7 89.6h2.0v2.0h-2.0zM439.3 88.5h2.0v2.0h-2.0zM434.8 89.1h2.0v2.0h-2.0zM439.3 89.7h2.0v2.0h-2.0zM437.1 88.7h2.0v2.0h-2.0zM437.7 90.1h2.0v2.0h-2.0zM438.8 87.1h2.0v2.0h-2.0zM437.7 89.3h2.0v2.0h-2.0zM439.6 87.6h2.0v2.0h-2.0zM441.2 87.1h2.0v2.0h-2.0zM441.4 86.7h2.0v2.0h-2.0zM440.7 83.5h2.0v2.0h-2.0zM441.6 86.7h2.0v2.0h-2.0zM445.0 85.1h2.0v2.0h-2.0zM442.0 84.9h2.0v2.0h-2.0zM443.1 82.9h2.0v2.0h-2.0zM440.3 80.6h2.0v2.0h-2.0zM442.9 82.9h2.0v2.0h-2.0zM444.6 84.3h2.0v2.0h-2.0zM444.3 83.6h2.0v2.0h-2.0zM444.7 83.6h2.0v2.0h-2.0zM444.8 82.6h2.0v2.0h-2.0zM442.8 83.8h2.0v2.0h-2.0zM447.1 82.1h2.0v2.0h-2.0zM446.3 82.0h2.0v2.0h-2.0zM448.5 83.2h2.0v2.0h-2.0zM447.0 82.9h2.0v2.0h-2.0zM447.5 83.8h2.0v2.0h-2.0zM450.0 84.3h2.0v2.0h-2.0zM451.2 82.5h2.0v2.0h-2.0zM449.5 84.0h2.0v2.0h-2.0zM449.7 83.5h2.0v2.0h-2.0zM448.2 81.9h2.0v2.0h-2.0zM452.6 83.0h2.0v2.0h-2.0zM452.7 81.3h2.0v2.0h-2.0zM451.2 82.1h2.0v2.0h-2.0zM452.4 83.7h2.0v2.0h-2.0zM454.5 85.2h2.0v2.0h-2.0zM454.4 84.1h2.0v2.0h-2.0zM453.1 84.6h2.0v2.0h-2.0zM453.9 86.2h2.0v2.0h-2.0zM454.0 84.0h2.0v2.0h-2.0zM454.1 86.6h2.0v2.0h-2.0zM455.8 87.2h2.0v2.0h-2.0zM453.7 87.6h2.0v2.0h-2.0zM456.6 88.1h2.0v2.0h-2.0zM458.1 89.0h2.0v2.0h-2.0zM456.3 86.7h2.0v2.0h-2.0zM458.7 89.6h2.0v2.0h-2.0zM457.2 89.7h2.0v2.0h-2.0zM460.5 87.2h2.0v2.0h-2.0zM459.3 89.9h2.0v2.0h-2.0zM458.5 91.1h2.0v2.0h-2.0zM459.8 89.6h2.0v2.0h-2.0zM459.8 87.9h2.0v2.0h-2.0zM460.0 92.0h2.0v2.0h-2.0zM459.5 91.2h2.0v2.0h-2.0zM459.4 91.8h2.0v2.0h-2.0zM460.1 92.7h2.0v2.0h-2.0zM461.6 93.8h2.0v2.0h-2.0zM459.6 95.1h2.0v2.0h-2.0zM460.6 96.5h2.0v2.0h-2.0zM460.5 94.0h2.0v2.0h-2.0zM461.4 96.0h2.0v2.0h-2.0zM462.5 96.7h2.0v2.0h-2.0zM462.3 96.4h2.0v2.0h-2.0zM459.9 95.7h2.0v2.0h-2.0zM460.7 98.0h2.0v2.0h-2.0zM463.6 96.7h2.0v2.0h-2.0zM460.9 98.4h2.0v2.0h-2.0zM459.9 98.3h2.0v2.0h-2.0zM462.3 96.9h2.0v2.0h-2.0zM463.9 100.0h2.0v2.0h-2.0zM460.9 98.4h2.0v2.0h-2.0zM459.2 102.1h2.0v2.0h-2.0zM463.4 102.4h2.0v2.0h-2.0zM461.2 102.4h2.0v2.0h-2.0zM462.4 100.9h2.0v2.0h-2.0zM463.7 102.7h2.0v2.0h-2.0zM490.7 96.5h2.0v2.0h-2.0zM491.3 99.1h2.0v2.0h-2.0zM490.4 99.0h2.0v2.0h-2.0zM491.6 95.7h2.0v2.0h-2.0zM490.5 99.3h2.0v2.0h-2.0zM489.6 102.4h2.0v2.0h-2.0zM491.1 103.4h2.0v2.0h-2.0zM490.5 100.2h2.0v2.0h-2.0zM488.6 106.2h2.0v2.0h-2.0zM489.9 103.1h2.0v2.0h-2.0zM489.1 103.4h2.0v2.0h-2.0zM489.0 106.5h2.0v2.0h-2.0zM490.4 106.7h2.0v2.0h-2.0zM487.9 109.4h2.0v2.0h-2.0zM487.7 110.2h2.0v2.0h-2.0zM486.4 111.9h2.0v2.0h-2.0zM488.8 110.8h2.0v2.0h-2.0zM487.2 111.3h2.0v2.0h-2.0zM485.3 112.6h2.0v2.0h-2.0zM485.7 112.5h2.0v2.0h-2.0zM485.9 112.9h2.0v2.0h-2.0zM485.2 114.2h2.0v2.0h-2.0zM484.3 113.7h2.0v2.0h-2.0zM482.7 112.3h2.0v2.0h-2.0zM483.4 113.2h2.0v2.0h-2.0zM482.1 112.3h2.0v2.0h-2.0zM481.4 112.5h2.0v2.0h-2.0zM481.4 110.7h2.0v2.0h-2.0zM480.1 110.9h2.0v2.0h-2.0zM481.4 110.4h2.0v2.0h-2.0zM479.1 105.6h2.0v2.0h-2.0zM479.8 107.1h2.0v2.0h-2.0zM480.7 108.3h2.0v2.0h-2.0zM478.5 103.7h2.0v2.0h-2.0zM479.3 103.4h2.0v2.0h-2.0zM478.8 104.1h2.0v2.0h-2.0zM477.7 101.3h2.0v2.0h-2.0zM477.5 102.7h2.0v2.0h-2.0zM477.6 102.7h2.0v2.0h-2.0zM477.6 100.2h2.0v2.0h-2.0zM476.7 97.3h2.0v2.0h-2.0zM478.2 96.5h2.0v2.0h-2.0zM477.1 96.4h2.0v2.0h-2.0zM478.2 98.4h2.0v2.0h-2.0zM477.5 96.2h2.0v2.0h-2.0zM478.6 93.4h2.0v2.0h-2.0zM478.6 94.2h2.0v2.0h-2.0zM478.4 93.1h2.0v2.0h-2.0zM477.6 90.5h2.0v2.0h-2.0zM478.3 90.2h2.0v2.0h-2.0zM478.6 91.9h2.0v2.0h-2.0zM477.6 91.3h2.0v2.0h-2.0zM478.4 85.0h2.0v2.0h-2.0zM479.8 85.5h2.0v2.0h-2.0zM478.9 86.2h2.0v2.0h-2.0zM479.8 84.0h2.0v2.0h-2.0zM480.1 83.7h2.0v2.0h-2.0zM478.8 82.2h2.0v2.0h-2.0zM480.0 82.8h2.0v2.0h-2.0zM481.9 81.5h2.0v2.0h-2.0zM480.7 81.4h2.0v2.0h-2.0zM481.9 79.7h2.0v2.0h-2.0zM482.8 79.7h2.0v2.0h-2.0zM484.3 78.6h2.0v2.0h-2.0zM482.9 79.0h2.0v2.0h-2.0zM486.3 77.4h2.0v2.0h-2.0zM484.2 77.4h2.0v2.0h-2.0zM485.0 77.4h2.0v2.0h-2.0zM485.7 78.0h2.0v2.0h-2.0zM486.6 79.3h2.0v2.0h-2.0zM487.1 79.3h2.0v2.0h-2.0zM487.3 81.1h2.0v2.0h-2.0zM487.8 81.2h2.0v2.0h-2.0zM487.1 80.6h2.0v2.0h-2.0zM489.3 85.7h2.0v2.0h-2.0zM489.3 83.5h2.0v2.0h-2.0zM488.4 84.5h2.0v2.0h-2.0zM489.1 85.0h2.0v2.0h-2.0zM488.4 86.7h2.0v2.0h-2.0zM490.0 87.4h2.0v2.0h-2.0zM490.0 89.0h2.0v2.0h-2.0zM490.0 91.1h2.0v2.0h-2.0zM490.8 90.2h2.0v2.0h-2.0zM490.0 89.6h2.0v2.0h-2.0zM490.5 94.9h2.0v2.0h-2.0zM490.9 92.8h2.0v2.0h-2.0zM490.5 95.0h2.0v2.0h-2.0zM491.3 94.7h2.0v2.0h-2.0zM445.5 104.0h2.0v2.0h-2.0zM447.2 79.2h2.0v2.0h-2.0zM441.6 98.5h2.0v2.0h-2.0zM442.6 87.3h2.0v2.0h-2.0zM445.6 94.4h2.0v2.0h-2.0zM448.7 98.4h2.0v2.0h-2.0zM449.8 111.4h2.0v2.0h-2.0zM449.4 104.1h2.0v2.0h-2.0zM435.2 62.2h2.0v2.0h-2.0zM443.8 107.5h2.0v2.0h-2.0zM444.4 91.2h2.0v2.0h-2.0zM435.0 110.1h2.0v2.0h-2.0zM442.5 102.1h2.0v2.0h-2.0zM459.9 105.7h2.0v2.0h-2.0zM471.6 97.3h2.0v2.0h-2.0zM458.0 107.7h2.0v2.0h-2.0zM441.1 99.6h2.0v2.0h-2.0zM442.1 86.2h2.0v2.0h-2.0zM451.1 89.3h2.0v2.0h-2.0zM465.6 89.7h2.0v2.0h-2.0zM442.3 100.1h2.0v2.0h-2.0zM442.6 99.7h2.0v2.0h-2.0zM441.6 81.2h2.0v2.0h-2.0zM464.0 104.6h2.0v2.0h-2.0zM449.6 93.2h2.0v2.0h-2.0zM446.5 102.7h2.0v2.0h-2.0zM433.4 89.0h2.0v2.0h-2.0zM438.7 114.7h2.0v2.0h-2.0zM436.9 113.7h2.0v2.0h-2.0zM447.2 99.4h2.0v2.0h-2.0zM462.2 109.9h2.0v2.0h-2.0zM457.9 85.6h2.0v2.0h-2.0zM459.9 120.0h2.0v2.0h-2.0zM446.9 92.9h2.0v2.0h-2.0zM436.5 111.7h2.0v2.0h-2.0zM451.1 99.1h2.0v2.0h-2.0zM435.0 119.3h2.0v2.0h-2.0zM457.2 98.7h2.0v2.0h-2.0zM463.5 87.1h2.0v2.0h-2.0zM457.3 86.5h2.0v2.0h-2.0zM462.8 95.6h2.0v2.0h-2.0zM460.8 93.8h2.0v2.0h-2.0zM452.2 113.3h2.0v2.0h-2.0zM438.5 100.2h2.0v2.0h-2.0zM439.2 109.7h2.0v2.0h-2.0zM441.7 94.3h2.0v2.0h-2.0zM445.9 113.6h2.0v2.0h-2.0zM437.1 98.7h2.0v2.0h-2.0zM444.5 92.1h2.0v2.0h-2.0zM439.7 97.0h2.0v2.0h-2.0zM450.1 79.7h2.0v2.0h-2.0zM450.5 84.2h2.0v2.0h-2.0zM437.8 98.2h2.0v2.0h-2.0zM445.3 111.3h2.0v2.0h-2.0zM443.0 76.7h2.0v2.0h-2.0zM450.7 112.3h2.0v2.0h-2.0zM442.4 107.3h2.0v2.0h-2.0zM436.8 115.2h2.0v2.0h-2.0zM447.3 90.5h2.0v2.0h-2.0zM439.1 83.5h2.0v2.0h-2.0zM437.3 84.6h2.0v2.0h-2.0zM447.5 103.4h2.0v2.0h-2.0zM446.3 101.5h2.0v2.0h-2.0zM460.4 95.4h2.0v2.0h-2.0zM434.8 70.4h2.0v2.0h-2.0zM450.5 90.5h2.0v2.0h-2.0zM445.4 104.1h2.0v2.0h-2.0zM452.9 79.4h2.0v2.0h-2.0zM437.9 99.9h2.0v2.0h-2.0zM446.5 113.3h2.0v2.0h-2.0zM442.7 73.2h2.0v2.0h-2.0zM460.3 78.6h2.0v2.0h-2.0zM437.8 103.9h2.0v2.0h-2.0zM450.5 105.7h2.0v2.0h-2.0zM453.7 90.0h2.0v2.0h-2.0zM461.2 77.9h2.0v2.0h-2.0zM441.8 102.6h2.0v2.0h-2.0zM449.4 87.0h2.0v2.0h-2.0zM464.6 117.4h2.0v2.0h-2.0zM438.2 103.7h2.0v2.0h-2.0zM441.3 93.6h2.0v2.0h-2.0zM458.4 100.6h2.0v2.0h-2.0zM446.9 100.3h2.0v2.0h-2.0zM435.7 114.3h2.0v2.0h-2.0zM440.1 115.4h2.0v2.0h-2.0zM443.2 93.3h2.0v2.0h-2.0zM463.6 101.4h2.0v2.0h-2.0zM441.3 92.3h2.0v2.0h-2.0zM454.4 94.1h2.0v2.0h-2.0zM436.2 90.6h2.0v2.0h-2.0zM446.8 102.1h2.0v2.0h-2.0zM441.1 115.0h2.0v2.0h-2.0zM437.9 90.1h2.0v2.0h-2.0zM453.2 105.0h2.0v2.0h-2.0zM443.9 111.0h2.0v2.0h-2.0zM433.2 119.4h2.0v2.0h-2.0zM448.6 115.6h2.0v2.0h-2.0zM445.9 101.4h2.0v2.0h-2.0zM453.5 77.2h2.0v2.0h-2.0zM445.8 120.5h2.0v2.0h-2.0zM457.7 103.1h2.0v2.0h-2.0zM450.0 116.3h2.0v2.0h-2.0zM451.5 75.3h2.0v2.0h-2.0zM438.1 95.3h2.0v2.0h-2.0zM449.5 93.4h2.0v2.0h-2.0zM446.9 119.9h2.0v2.0h-2.0zM457.8 106.5h2.0v2.0h-2.0zM448.2 99.8h2.0v2.0h-2.0zM451.8 102.0h2.0v2.0h-2.0zM440.4 108.8h2.0v2.0h-2.0zM439.3 98.5h2.0v2.0h-2.0zM444.2 84.6h2.0v2.0h-2.0zM454.4 98.1h2.0v2.0h-2.0zM435.8 98.0h2.0v2.0h-2.0zM433.5 116.9h2.0v2.0h-2.0zM442.1 107.8h2.0v2.0h-2.0zM437.9 88.4h2.0v2.0h-2.0zM447.1 104.1h2.0v2.0h-2.0zM457.7 95.7h2.0v2.0h-2.0zM459.6 111.0h2.0v2.0h-2.0zM438.8 96.8h2.0v2.0h-2.0zM438.4 120.3h2.0v2.0h-2.0zM442.2 110.0h2.0v2.0h-2.0zM457.6 95.8h2.0v2.0h-2.0zM442.9 103.3h2.0v2.0h-2.0zM439.9 83.2h2.0v2.0h-2.0zM437.9 103.2h2.0v2.0h-2.0zM435.9 113.4h2.0v2.0h-2.0zM455.3 100.6h2.0v2.0h-2.0zM463.4 94.4h2.0v2.0h-2.0zM442.5 85.9h2.0v2.0h-2.0zM441.1 100.4h2.0v2.0h-2.0zM455.0 114.9h2.0v2.0h-2.0zM445.2 89.9h2.0v2.0h-2.0zM444.5 93.7h2.0v2.0h-2.0zM443.1 94.0h2.0v2.0h-2.0zM438.9 98.4h2.0v2.0h-2.0zM442.7 96.9h2.0v2.0h-2.0zM433.5 100.8h2.0v2.0h-2.0zM454.0 107.0h2.0v2.0h-2.0zM442.3 84.8h2.0v2.0h-2.0zM434.4 84.4h2.0v2.0h-2.0zM441.3 95.2h2.0v2.0h-2.0zM440.5 109.3h2.0v2.0h-2.0zM467.2 94.6h2.0v2.0h-2.0zM445.1 94.1h2.0v2.0h-2.0zM445.9 96.9h2.0v2.0h-2.0zM473.7 85.5h2.0v2.0h-2.0zM446.9 89.2h2.0v2.0h-2.0zM451.7 92.6h2.0v2.0h-2.0zM454.0 85.6h2.0v2.0h-2.0zM470.0 101.6h2.0v2.0h-2.0zM443.1 84.7h2.0v2.0h-2.0zM452.6 92.6h2.0v2.0h-2.0zM455.7 92.2h2.0v2.0h-2.0zM457.4 100.8h2.0v2.0h-2.0zM451.7 101.0h2.0v2.0h-2.0zM444.2 94.5h2.0v2.0h-2.0zM452.7 107.8h2.0v2.0h-2.0zM465.6 84.9h2.0v2.0h-2.0zM459.3 98.1h2.0v2.0h-2.0zM450.4 89.3h2.0v2.0h-2.0zM465.2 88.8h2.0v2.0h-2.0zM447.2 90.1h2.0v2.0h-2.0zM468.1 114.5h2.0v2.0h-2.0zM434.3 93.5h2.0v2.0h-2.0zM451.8 93.7h2.0v2.0h-2.0zM444.3 85.7h2.0v2.0h-2.0zM450.6 85.6h2.0v2.0h-2.0zM444.6 119.3h2.0v2.0h-2.0zM451.9 90.8h2.0v2.0h-2.0zM444.4 87.2h2.0v2.0h-2.0zM449.2 107.6h2.0v2.0h-2.0zM457.6 95.6h2.0v2.0h-2.0zM435.6 98.1h2.0v2.0h-2.0zM465.3 102.5h2.0v2.0h-2.0zM447.3 73.5h2.0v2.0h-2.0zM443.5 105.7h2.0v2.0h-2.0zM438.2 115.6h2.0v2.0h-2.0zM442.1 88.3h2.0v2.0h-2.0zM442.0 97.9h2.0v2.0h-2.0zM458.3 92.1h2.0v2.0h-2.0zM453.4 117.9h2.0v2.0h-2.0zM436.4 117.2h2.0v2.0h-2.0zM455.0 104.6h2.0v2.0h-2.0zM440.1 88.2h2.0v2.0h-2.0zM438.1 110.5h2.0v2.0h-2.0zM450.3 112.1h2.0v2.0h-2.0zM466.8 99.3h2.0v2.0h-2.0zM434.5 93.5h2.0v2.0h-2.0zM444.2 94.4h2.0v2.0h-2.0zM449.5 88.8h2.0v2.0h-2.0zM460.0 82.3h2.0v2.0h-2.0zM439.6 78.3h2.0v2.0h-2.0zM433.5 106.2h2.0v2.0h-2.0zM454.5 96.6h2.0v2.0h-2.0zM456.7 106.6h2.0v2.0h-2.0zM442.0 98.6h2.0v2.0h-2.0zM443.5 103.6h2.0v2.0h-2.0zM453.6 114.0h2.0v2.0h-2.0zM452.4 112.2h2.0v2.0h-2.0zM437.0 95.8h2.0v2.0h-2.0zM472.1 102.0h2.0v2.0h-2.0zM448.9 102.3h2.0v2.0h-2.0zM449.5 82.9h2.0v2.0h-2.0zM440.9 96.9h2.0v2.0h-2.0zM449.7 88.5h2.0v2.0h-2.0zM446.9 90.1h2.0v2.0h-2.0zM434.4 91.0h2.0v2.0h-2.0zM439.7 109.3h2.0v2.0h-2.0zM461.8 106.2h2.0v2.0h-2.0zM445.8 92.3h2.0v2.0h-2.0zM464.2 113.2h2.0v2.0h-2.0zM450.3 96.1h2.0v2.0h-2.0zM448.0 104.2h2.0v2.0h-2.0zM447.9 104.3h2.0v2.0h-2.0zM440.0 99.6h2.0v2.0h-2.0zM444.4 112.2h2.0v2.0h-2.0zM435.2 114.9h2.0v2.0h-2.0zM447.1 92.9h2.0v2.0h-2.0zM448.2 100.6h2.0v2.0h-2.0zM445.6 104.3h2.0v2.0h-2.0zM442.0 78.4h2.0v2.0h-2.0zM455.2 98.8h2.0v2.0h-2.0zM465.2 103.8h2.0v2.0h-2.0zM440.9 105.8h2.0v2.0h-2.0zM470.9 112.4h2.0v2.0h-2.0zM436.7 98.0h2.0v2.0h-2.0zM453.8 86.6h2.0v2.0h-2.0zM452.7 110.5h2.0v2.0h-2.0zM456.3 90.9h2.0v2.0h-2.0zM440.9 85.4h2.0v2.0h-2.0zM434.7 102.9h2.0v2.0h-2.0zM448.4 115.0h2.0v2.0h-2.0zM450.8 95.2h2.0v2.0h-2.0zM433.3 117.9h2.0v2.0h-2.0zM449.7 98.7h2.0v2.0h-2.0zM437.6 86.3h2.0v2.0h-2.0zM454.5 87.3h2.0v2.0h-2.0zM454.0 106.7h2.0v2.0h-2.0zM444.1 79.4h2.0v2.0h-2.0zM452.2 116.2h2.0v2.0h-2.0zM439.5 83.7h2.0v2.0h-2.0zM459.2 100.9h2.0v2.0h-2.0zM441.6 114.0h2.0v2.0h-2.0zM445.1 104.6h2.0v2.0h-2.0zM443.9 90.0h2.0v2.0h-2.0zM450.3 88.7h2.0v2.0h-2.0zM460.7 112.5h2.0v2.0h-2.0zM470.4 111.2h2.0v2.0h-2.0zM464.6 102.2h2.0v2.0h-2.0zM443.5 104.8h2.0v2.0h-2.0zM438.2 108.0h2.0v2.0h-2.0zM443.4 102.3h2.0v2.0h-2.0zM439.2 97.5h2.0v2.0h-2.0zM458.1 96.5h2.0v2.0h-2.0zM441.1 102.6h2.0v2.0h-2.0zM457.1 96.9h2.0v2.0h-2.0zM436.0 80.2h2.0v2.0h-2.0zM434.2 112.0h2.0v2.0h-2.0zM447.1 104.9h2.0v2.0h-2.0zM459.1 102.6h2.0v2.0h-2.0zM453.0 93.0h2.0v2.0h-2.0zM447.0 106.1h2.0v2.0h-2.0zM437.0 97.4h2.0v2.0h-2.0zM468.8 88.9h2.0v2.0h-2.0zM449.0 115.0h2.0v2.0h-2.0zM445.6 100.6h2.0v2.0h-2.0zM443.5 114.7h2.0v2.0h-2.0zM447.1 94.6h2.0v2.0h-2.0zM435.3 105.0h2.0v2.0h-2.0zM433.6 120.5h2.0v2.0h-2.0zM436.2 108.1h2.0v2.0h-2.0zM435.9 114.3h2.0v2.0h-2.0zM435.5 107.5h2.0v2.0h-2.0zM434.6 110.7h2.0v2.0h-2.0zM435.5 110.2h2.0v2.0h-2.0zM433.5 106.5h2.0v2.0h-2.0zM435.3 98.6h2.0v2.0h-2.0zM434.5 113.7h2.0v2.0h-2.0zM434.8 104.6h2.0v2.0h-2.0zM434.5 102.9h2.0v2.0h-2.0zM436.2 103.9h2.0v2.0h-2.0zM435.0 108.9h2.0v2.0h-2.0zM433.7 95.8h2.0v2.0h-2.0zM434.2 99.9h2.0v2.0h-2.0zM433.3 107.1h2.0v2.0h-2.0zM433.1 109.8h2.0v2.0h-2.0zM433.2 103.1h2.0v2.0h-2.0zM434.1 119.8h2.0v2.0h-2.0zM437.3 115.3h2.0v2.0h-2.0zM433.2 107.2h2.0v2.0h-2.0zM436.1 114.1h2.0v2.0h-2.0zM433.2 113.6h2.0v2.0h-2.0zM500.4 35.0h2.0v2.0h-2.0zM516.0 39.6h2.0v2.0h-2.0zM511.4 70.7h2.0v2.0h-2.0zM481.0 43.3h2.0v2.0h-2.0zM484.3 50.6h2.0v2.0h-2.0zM478.0 53.7h2.0v2.0h-2.0zM487.0 56.4h2.0v2.0h-2.0zM485.2 57.9h2.0v2.0h-2.0zM473.4 51.0h2.0v2.0h-2.0zM475.2 51.9h2.0v2.0h-2.0zM469.7 55.5h2.0v2.0h-2.0zM471.5 59.2h2.0v2.0h-2.0zM472.4 61.5h2.0v2.0h-2.0zM462.4 43.6h2.0v2.0h-2.0zM457.8 41.8h2.0v2.0h-2.0zM463.3 51.0h2.0v2.0h-2.0zM466.0 51.3h2.0v2.0h-2.0zM462.4 56.0h2.0v2.0h-2.0zM447.0 59.0h2.0v2.0h-2.0zM442.0 60.0h2.0v2.0h-2.0zM437.0 57.5h2.0v2.0h-2.0zM487.0 67.0h2.0v2.0h-2.0zM489.5 69.5h2.0v2.0h-2.0zM486.5 72.0h2.0v2.0h-2.0zM489.0 75.0h2.0v2.0h-2.0zM485.0 74.5h2.0v2.0h-2.0zM480.0 69.0h2.0v2.0h-2.0zM482.0 75.0h2.0v2.0h-2.0zM462.9 72.5h2.0v2.0h-2.0zM476.9 73.7h2.0v2.0h-2.0zM479.7 74.3h2.0v2.0h-2.0zM456.2 84.2h2.0v2.0h-2.0zM452.1 72.8h2.0v2.0h-2.0zM470.7 74.9h2.0v2.0h-2.0zM461.4 69.1h2.0v2.0h-2.0zM473.6 79.8h2.0v2.0h-2.0zM460.3 78.5h2.0v2.0h-2.0zM452.4 72.8h2.0v2.0h-2.0zM442.4 76.8h2.0v2.0h-2.0zM468.5 79.2h2.0v2.0h-2.0zM465.6 78.5h2.0v2.0h-2.0zM448.4 68.8h2.0v2.0h-2.0zM463.0 75.9h2.0v2.0h-2.0zM466.2 73.8h2.0v2.0h-2.0zM448.8 77.2h2.0v2.0h-2.0zM451.8 67.3h2.0v2.0h-2.0zM451.3 70.9h2.0v2.0h-2.0zM446.6 72.5h2.0v2.0h-2.0zM465.8 86.3h2.0v2.0h-2.0zM473.1 73.1h2.0v2.0h-2.0zM467.6 74.7h2.0v2.0h-2.0zM460.7 71.9h2.0v2.0h-2.0zM456.3 67.1h2.0v2.0h-2.0zM473.7 71.4h2.0v2.0h-2.0zM462.4 72.3h2.0v2.0h-2.0zM459.5 69.5h2.0v2.0h-2.0zM453.5 79.4h2.0v2.0h-2.0zM462.5 65.8h2.0v2.0h-2.0zM464.9 68.8h2.0v2.0h-2.0zM459.7 77.6h2.0v2.0h-2.0zM451.0 73.6h2.0v2.0h-2.0zM454.7 77.0h2.0v2.0h-2.0zM465.5 81.6h2.0v2.0h-2.0zM460.0 84.6h2.0v2.0h-2.0zM448.2 83.5h2.0v2.0h-2.0zM454.6 78.7h2.0v2.0h-2.0zM455.8 75.5h2.0v2.0h-2.0zM448.5 76.9h2.0v2.0h-2.0zM475.8 75.8h2.0v2.0h-2.0zM456.8 75.1h2.0v2.0h-2.0zM463.6 74.1h2.0v2.0h-2.0zM457.0 76.1h2.0v2.0h-2.0zM469.1 79.6h2.0v2.0h-2.0zM447.2 72.1h2.0v2.0h-2.0zM457.2 79.1h2.0v2.0h-2.0zM466.0 74.1h2.0v2.0h-2.0zM476.8 74.3h2.0v2.0h-2.0zM470.1 81.8h2.0v2.0h-2.0zM471.8 76.0h2.0v2.0h-2.0zM462.4 67.8h2.0v2.0h-2.0zM440.5 72.2h2.0v2.0h-2.0zM463.7 80.1h2.0v2.0h-2.0zM456.0 80.0h2.0v2.0h-2.0zM462.4 82.3h2.0v2.0h-2.0zM442.2 71.1h2.0v2.0h-2.0zM448.1 70.1h2.0v2.0h-2.0zM472.3 70.7h2.0v2.0h-2.0zM449.3 73.2h2.0v2.0h-2.0zM465.2 72.9h2.0v2.0h-2.0zM463.9 77.7h2.0v2.0h-2.0zM448.5 69.2h2.0v2.0h-2.0zM472.2 71.7h2.0v2.0h-2.0zM465.4 103.1h2.0v2.0h-2.0zM469.2 89.4h2.0v2.0h-2.0zM472.6 108.7h2.0v2.0h-2.0zM469.9 91.3h2.0v2.0h-2.0zM466.1 77.8h2.0v2.0h-2.0zM470.3 103.3h2.0v2.0h-2.0zM465.9 99.4h2.0v2.0h-2.0zM479.9 87.4h2.0v2.0h-2.0zM463.3 105.5h2.0v2.0h-2.0zM467.6 94.0h2.0v2.0h-2.0zM471.1 97.8h2.0v2.0h-2.0zM472.3 104.5h2.0v2.0h-2.0zM472.9 100.4h2.0v2.0h-2.0zM461.8 113.3h2.0v2.0h-2.0zM463.3 110.1h2.0v2.0h-2.0zM469.8 84.6h2.0v2.0h-2.0zM469.2 108.4h2.0v2.0h-2.0zM465.6 99.6h2.0v2.0h-2.0zM466.5 88.7h2.0v2.0h-2.0zM466.9 112.5h2.0v2.0h-2.0zM471.3 98.8h2.0v2.0h-2.0zM468.7 100.5h2.0v2.0h-2.0zM470.0 101.1h2.0v2.0h-2.0zM463.3 108.8h2.0v2.0h-2.0zM466.1 71.9h2.0v2.0h-2.0zM471.3 86.5h2.0v2.0h-2.0zM468.5 98.2h2.0v2.0h-2.0zM467.0 104.7h2.0v2.0h-2.0zM468.1 96.2h2.0v2.0h-2.0zM465.8 96.2h2.0v2.0h-2.0zM465.5 99.6h2.0v2.0h-2.0zM473.4 109.7h2.0v2.0h-2.0zM470.4 84.9h2.0v2.0h-2.0zM472.4 108.9h2.0v2.0h-2.0z" fill="#000"/>
<path d="M458.7 84.8h0.8v0.8h-0.8zM448.7 95.8h0.8v0.8h-0.8zM453.9 91.5h0.8v0.8h-0.8zM446.7 110.9h0.8v0.8h-0.8zM453.5 86.3h0.8v0.8h-0.8zM448.7 105.5h0.8v0.8h-0.8zM445.6 101.1h0.8v0.8h-0.8zM449.1 89.3h0.8v0.8h-0.8zM440.4 50.6h0.8v0.8h-0.8zM451.1 46.5h0.8v0.8h-0.8zM450.7 46.2h0.8v0.8h-0.8zM445.6 47.9h0.8v0.8h-0.8z" fill="#888"/>
</g>
</g><g id="panelB">
<text x="3.4" y="204.8" font-size="24" font-weight="bold" fill="#000" stroke="#000" stroke-width="0" text-anchor="start">B</text>
<line x1="61.1" y1="218.6" x2="61.1" y2="382.8" stroke="#000" stroke-width="1.9"/>
<line x1="57.300000000000004" y1="379.8" x2="345.9" y2="379.8" stroke="#000" stroke-width="1.8"/>
<text x="52" y="383.2" font-size="9.5" font-weight="bold" fill="#000" stroke="#000" stroke-width="0.3" text-anchor="end" textLength="6.4" lengthAdjust="spacingAndGlyphs">0</text>
<text x="52" y="365.3" font-size="9.5" font-weight="bold" fill="#000" stroke="#000" stroke-width="0.3" text-anchor="end" textLength="6.4" lengthAdjust="spacingAndGlyphs">5</text>
<text x="52" y="347.5" font-size="9.5" font-weight="bold" fill="#000" stroke="#000" stroke-width="0.3" text-anchor="end" textLength="13.2" lengthAdjust="spacingAndGlyphs">10</text>
<text x="52" y="329.6" font-size="9.5" font-weight="bold" fill="#000" stroke="#000" stroke-width="0.3" text-anchor="end" textLength="13.2" lengthAdjust="spacingAndGlyphs">15</text>
<text x="52" y="311.8" font-size="9.5" font-weight="bold" fill="#000" stroke="#000" stroke-width="0.3" text-anchor="end" textLength="13.2" lengthAdjust="spacingAndGlyphs">20</text>
<text x="52" y="293.9" font-size="9.5" font-weight="bold" fill="#000" stroke="#000" stroke-width="0.3" text-anchor="end" textLength="13.2" lengthAdjust="spacingAndGlyphs">25</text>
<text x="52" y="276.1" font-size="9.5" font-weight="bold" fill="#000" stroke="#000" stroke-width="0.3" text-anchor="end" textLength="13.2" lengthAdjust="spacingAndGlyphs">30</text>
<text x="52" y="258.2" font-size="9.5" font-weight="bold" fill="#000" stroke="#000" stroke-width="0.3" text-anchor="end" textLength="13.2" lengthAdjust="spacingAndGlyphs">35</text>
<text x="52" y="240.4" font-size="9.5" font-weight="bold" fill="#000" stroke="#000" stroke-width="0.3" text-anchor="end" textLength="13.2" lengthAdjust="spacingAndGlyphs">40</text>
<text x="52" y="222.6" font-size="9.5" font-weight="bold" fill="#000" stroke="#000" stroke-width="0.3" text-anchor="end" textLength="13.2" lengthAdjust="spacingAndGlyphs">45</text>
<path d="M57.300000000000004 379.80H61.1M57.300000000000004 361.95H61.1M57.300000000000004 344.10H61.1M57.300000000000004 326.25H61.1M57.300000000000004 308.40H61.1M57.300000000000004 290.55H61.1M57.300000000000004 272.70H61.1M57.300000000000004 254.85H61.1M57.300000000000004 237.00H61.1M57.300000000000004 219.15H61.1" stroke="#000" stroke-width="1.4"/>
<path d="M133 379.8v3.4M203 379.8v3.4M274.7 379.8v3.4M345.2 379.8v3.4" stroke="#000" stroke-width="1.4"/>
<text transform="translate(22.8,299.2) rotate(-90)" text-anchor="middle" font-size="9.5" font-weight="bold" fill="#000" stroke="#000" stroke-width="0.3" textLength="35.5" lengthAdjust="spacingAndGlyphs">Million</text>
<rect x="89.8" y="310.2" width="15.0" height="69.6" fill="url(#dith)"/>
<path d="M89.8 311.0H104.8" stroke="#222" stroke-width="1.8"/>
<path d="M104.4 310.2V379.8" stroke="#444" stroke-width="0.9"/>
<path d="M97.3 310.2V309.1M91.9 309.1H102.7" stroke="#000" stroke-width="1.8" fill="none"/>
<rect x="104.8" y="344.1" width="16.0" height="35.7" fill="#343434"/>
<path d="M104.8 344.8H120.8" stroke="#111" stroke-width="1.6"/>
<path d="M120.4 344.1V379.8" stroke="#1a1a1a" stroke-width="0.9"/>
<path d="M112.8 344.1V343.2M107.0 343.2H118.6" stroke="#000" stroke-width="1.8" fill="none"/>
<rect x="72.5" y="279.9" width="15.8" height="99.9" fill="#fff" stroke="#000" stroke-width="3.0"/>
<path d="M80.4 278.4V277.5M73.6 277.5H87.2" stroke="#000" stroke-width="1.8" fill="none"/>
<rect x="161.2" y="336.2" width="15.5" height="43.6" fill="url(#dith)"/>
<path d="M161.2 337.0H176.7" stroke="#222" stroke-width="1.8"/>
<path d="M176.3 336.2V379.8" stroke="#444" stroke-width="0.9"/>
<path d="M168.9 336.2V332.7M163.4 332.7H174.5" stroke="#000" stroke-width="1.8" fill="none"/>
<rect x="176.7" y="359.5" width="15.6" height="20.3" fill="#343434"/>
<path d="M176.7 360.2H192.3" stroke="#111" stroke-width="1.6"/>
<path d="M191.9 359.5V379.8" stroke="#1a1a1a" stroke-width="0.9"/>
<path d="M184.5 359.5V358.6M178.9 358.6H190.1" stroke="#000" stroke-width="1.8" fill="none"/>
<rect x="143.8" y="314.9" width="15.9" height="64.9" fill="#fff" stroke="#000" stroke-width="3.0"/>
<path d="M151.8 313.4V307.3M144.9 307.3H158.6" stroke="#000" stroke-width="1.8" fill="none"/>
<rect x="232.3" y="338.0" width="15.3" height="41.8" fill="url(#dith)"/>
<path d="M232.3 338.8H247.6" stroke="#222" stroke-width="1.8"/>
<path d="M247.2 338.0V379.8" stroke="#444" stroke-width="0.9"/>
<path d="M239.9 338.0V330.5M234.4 330.5H245.5" stroke="#000" stroke-width="1.8" fill="none"/>
<rect x="247.6" y="360.5" width="16.2" height="19.3" fill="#343434"/>
<path d="M247.6 361.2H263.8" stroke="#111" stroke-width="1.6"/>
<path d="M263.4 360.5V379.8" stroke="#1a1a1a" stroke-width="0.9"/>
<path d="M255.7 360.5V358.7M249.9 358.7H261.5" stroke="#000" stroke-width="1.8" fill="none"/>
<rect x="214.6" y="323.8" width="16.2" height="56.0" fill="#fff" stroke="#000" stroke-width="3.0"/>
<path d="M222.7 322.3V311.6M215.8 311.6H229.6" stroke="#000" stroke-width="1.8" fill="none"/>
<rect x="303.9" y="297.3" width="15.0" height="82.5" fill="url(#dith)"/>
<path d="M303.9 298.1H318.9" stroke="#222" stroke-width="1.8"/>
<path d="M318.5 297.3V379.8" stroke="#444" stroke-width="0.9"/>
<path d="M311.4 297.3V295.2M306.0 295.2H316.8" stroke="#000" stroke-width="1.8" fill="none"/>
<rect x="318.9" y="338.0" width="15.7" height="41.8" fill="#343434"/>
<path d="M318.9 338.7H334.6" stroke="#111" stroke-width="1.6"/>
<path d="M334.2 338.0V379.8" stroke="#1a1a1a" stroke-width="0.9"/>
<path d="M326.8 338.0V334.6M321.1 334.6H332.4" stroke="#000" stroke-width="1.8" fill="none"/>
<rect x="285.9" y="249.2" width="16.5" height="130.6" fill="#fff" stroke="#000" stroke-width="3.0"/>
<path d="M294.1 247.7V240.6M287.1 240.6H301.2" stroke="#000" stroke-width="1.8" fill="none"/>
<text x="96.8" y="398" font-size="9.5" font-weight="bold" fill="#000" stroke="#000" stroke-width="0.3" text-anchor="middle" textLength="22" lengthAdjust="spacingAndGlyphs">PBS</text>
<text x="168.2" y="398" font-size="9.5" font-weight="bold" fill="#000" stroke="#000" stroke-width="0.3" text-anchor="middle" textLength="40" lengthAdjust="spacingAndGlyphs">VEGF-A</text>
<text x="237.8" y="398" font-size="9.5" font-weight="bold" fill="#000" stroke="#000" stroke-width="0.3" text-anchor="middle" textLength="63.5" lengthAdjust="spacingAndGlyphs">VEGF-R2-sel</text>
<text x="309.3" y="398" font-size="9.5" font-weight="bold" fill="#000" stroke="#000" stroke-width="0.3" text-anchor="middle" textLength="64.2" lengthAdjust="spacingAndGlyphs">VEGF-R1-sel</text>
<path d="M86 238.3V215.5H312.7V232 M71.6 238.3H100 M293 232H327" stroke="#222" stroke-width="1" fill="none"/>
<path d="M94.7 267.5V258.5H239.2V293.6 M72.4 267.5H117.3 M169.4 258.5V293.6 M147 293.6H193 M220.6 293.6H265.5" stroke="#222" stroke-width="1" fill="none"/>
<path d="M220.40 199.60L220.40 195.20M220.40 199.60L224.58 198.24M220.40 199.60L222.99 203.16M220.40 199.60L217.81 203.16M220.40 199.60L216.22 198.24" stroke="#000" stroke-width="1.7" fill="none" stroke-linecap="butt"/>
<path d="M178.10 247.20L178.10 243.50M178.10 247.20L181.62 246.06M178.10 247.20L180.27 250.19M178.10 247.20L175.93 250.19M178.10 247.20L174.58 246.06" stroke="#000" stroke-width="1.5" fill="none" stroke-linecap="butt"/>
<path d="M186.30 247.20L186.30 243.50M186.30 247.20L189.82 246.06M186.30 247.20L188.47 250.19M186.30 247.20L184.13 250.19M186.30 247.20L182.78 246.06" stroke="#000" stroke-width="1.5" fill="none" stroke-linecap="butt"/>
<rect x="342.5" y="243" width="11.5" height="11.5" fill="#fff" stroke="#444" stroke-width="1"/>
<rect x="342.5" y="267.5" width="11.5" height="11.5" fill="url(#dith)" stroke="#666" stroke-width="1"/>
<rect x="342.5" y="292.5" width="11.5" height="11.5" fill="#2b2b2b" stroke="#222" stroke-width="1"/>
<text x="357.5" y="254.6" font-size="15" font-weight="bold" fill="#000" stroke="#000" stroke-width="0.3" text-anchor="start" textLength="43.5" lengthAdjust="spacingAndGlyphs">CD3e</text>
<text x="357.5" y="279.3" font-size="15" font-weight="bold" fill="#000" stroke="#000" stroke-width="0.3" text-anchor="start" textLength="33.2" lengthAdjust="spacingAndGlyphs">CD4</text>
<text x="357.5" y="304" font-size="15" font-weight="bold" fill="#000" stroke="#000" stroke-width="0.3" text-anchor="start" textLength="43" lengthAdjust="spacingAndGlyphs">CD8a</text>
</g>
<g id="panelC">
<path d="M-0.2 423.4L1.7 419.6" stroke="#000" stroke-width="1.5"/>
<text x="1.6" y="444.3" font-size="24.6" font-weight="bold" fill="#000" stroke="#000" stroke-width="0" text-anchor="start">C</text>
<line x1="68.3" y1="461.8" x2="68.3" y2="631.6999999999999" stroke="#000" stroke-width="2"/>
<line x1="64.3" y1="628.3" x2="394.9" y2="628.3" stroke="#000" stroke-width="2.1"/>
<text x="57.6" y="632.6" font-size="13" font-weight="bold" fill="#000" stroke="#000" stroke-width="0.3" text-anchor="end" textLength="8.4" lengthAdjust="spacingAndGlyphs">0</text>
<text x="57.6" y="608.9" font-size="13" font-weight="bold" fill="#000" stroke="#000" stroke-width="0.3" text-anchor="end" textLength="8.4" lengthAdjust="spacingAndGlyphs">5</text>
<text x="57.6" y="585.3" font-size="13" font-weight="bold" fill="#000" stroke="#000" stroke-width="0.3" text-anchor="end" textLength="17.4" lengthAdjust="spacingAndGlyphs">10</text>
<text x="57.6" y="561.6" font-size="13" font-weight="bold" fill="#000" stroke="#000" stroke-width="0.3" text-anchor="end" textLength="17.4" lengthAdjust="spacingAndGlyphs">15</text>
<text x="57.6" y="538.0" font-size="13" font-weight="bold" fill="#000" stroke="#000" stroke-width="0.3" text-anchor="end" textLength="17.4" lengthAdjust="spacingAndGlyphs">20</text>
<text x="57.6" y="514.3" font-size="13" font-weight="bold" fill="#000" stroke="#000" stroke-width="0.3" text-anchor="end" textLength="17.4" lengthAdjust="spacingAndGlyphs">25</text>
<text x="57.6" y="490.7" font-size="13" font-weight="bold" fill="#000" stroke="#000" stroke-width="0.3" text-anchor="end" textLength="17.4" lengthAdjust="spacingAndGlyphs">30</text>
<text x="57.6" y="467.0" font-size="13" font-weight="bold" fill="#000" stroke="#000" stroke-width="0.3" text-anchor="end" textLength="17.4" lengthAdjust="spacingAndGlyphs">35</text>
<path d="M64.3 628.30H68.3M64.3 604.65H68.3M64.3 581.00H68.3M64.3 557.35H68.3M64.3 533.70H68.3M64.3 510.05H68.3M64.3 486.40H68.3M64.3 462.75H68.3" stroke="#000" stroke-width="1.7"/>
<path d="M149.3 628.3v3.8M231.3 628.3v3.8M312.2 628.3v3.8M394 628.3v3.8" stroke="#000" stroke-width="1.7"/>
<text transform="translate(30.2,539.8) rotate(-90)" text-anchor="middle" font-size="12.8" font-weight="bold" fill="#000" stroke="#000" stroke-width="0.3" textLength="92" lengthAdjust="spacingAndGlyphs">Million cells</text>
<rect x="81.2" y="497.6" width="18.0" height="130.7" fill="#fff" stroke="#000" stroke-width="1.6"/>
<path d="M80.4 498.0H100.0" stroke="#000" stroke-width="2.4"/>
<path d="M90.2 496.8V489.2M82.8 489.6H97.6" stroke="#000" stroke-width="2.1" fill="none"/>
<rect x="100.8" y="539.7" width="16.7" height="88.6" fill="#b9b9b9" stroke="#000" stroke-width="1.6"/>
<path d="M100.0 540.1H118.3" stroke="#000" stroke-width="2.4"/>
<path d="M109.2 538.9V531.8M102.2 532.2H116.1" stroke="#000" stroke-width="2.1" fill="none"/>
<rect x="119.1" y="583.0" width="17.1" height="45.3" fill="#000" stroke="#000" stroke-width="1.6"/>
<path d="M118.3 583.4H137.0" stroke="#000" stroke-width="2.4"/>
<path d="M127.7 582.2V580.1M120.5 580.5H134.8" stroke="#000" stroke-width="2.1" fill="none"/>
<rect x="163.2" y="560.5" width="17.7" height="67.8" fill="#fff" stroke="#000" stroke-width="1.6"/>
<path d="M162.4 560.9H181.7" stroke="#000" stroke-width="2.4"/>
<path d="M172.1 559.7V549.8M164.7 550.2H179.4" stroke="#000" stroke-width="2.1" fill="none"/>
<rect x="182.5" y="582.3" width="16.6" height="46.0" fill="#b9b9b9" stroke="#000" stroke-width="1.6"/>
<path d="M181.7 582.7H199.9" stroke="#000" stroke-width="2.4"/>
<path d="M190.8 581.5V573.4M183.9 573.8H197.7" stroke="#000" stroke-width="2.1" fill="none"/>
<rect x="200.7" y="608.1" width="16.9" height="20.2" fill="#000" stroke="#000" stroke-width="1.6"/>
<path d="M199.9 608.5H218.4" stroke="#000" stroke-width="2.4"/>
<path d="M209.2 607.3V605.1M202.1 605.5H216.2" stroke="#000" stroke-width="2.1" fill="none"/>
<rect x="245.2" y="597.4" width="16.6" height="30.9" fill="#fff" stroke="#000" stroke-width="1.6"/>
<path d="M244.4 597.8H262.6" stroke="#000" stroke-width="2.4"/>
<path d="M253.5 596.6V589.5M246.6 589.9H260.4" stroke="#000" stroke-width="2.1" fill="none"/>
<rect x="263.4" y="609.9" width="16.8" height="18.4" fill="#b9b9b9" stroke="#000" stroke-width="1.6"/>
<path d="M262.6 610.3H281.0" stroke="#000" stroke-width="2.4"/>
<path d="M271.8 609.1V606.1M264.8 606.5H278.8" stroke="#000" stroke-width="2.1" fill="none"/>
<rect x="281.8" y="619.2" width="17.0" height="9.1" fill="#000" stroke="#000" stroke-width="1.6"/>
<path d="M281.0 619.6H299.6" stroke="#000" stroke-width="2.4"/>
<rect x="325.6" y="503.8" width="18.0" height="124.5" fill="#fff" stroke="#000" stroke-width="1.6"/>
<path d="M324.8 504.2H344.4" stroke="#000" stroke-width="2.4"/>
<path d="M334.6 503.0V498.2M327.2 498.6H342.0" stroke="#000" stroke-width="2.1" fill="none"/>
<rect x="345.2" y="541.6" width="17.2" height="86.7" fill="#b9b9b9" stroke="#000" stroke-width="1.6"/>
<path d="M344.4 542.0H363.2" stroke="#000" stroke-width="2.4"/>
<path d="M353.8 540.8V539.4M346.7 539.8H360.9" stroke="#000" stroke-width="2.1" fill="none"/>
<rect x="364.0" y="583.5" width="16.8" height="44.8" fill="#000" stroke="#000" stroke-width="1.6"/>
<path d="M363.2 583.9H381.6" stroke="#000" stroke-width="2.4"/>
<text x="108.8" y="653.4" font-size="13.2" font-weight="bold" fill="#000" stroke="#000" stroke-width="0.3" text-anchor="middle" textLength="59" lengthAdjust="spacingAndGlyphs">PBS-IgG</text>
<text x="190" y="653.4" font-size="13.2" font-weight="bold" fill="#000" stroke="#000" stroke-width="0.3" text-anchor="middle" textLength="67.5" lengthAdjust="spacingAndGlyphs">VEGF-IgG</text>
<text x="271.3" y="653.4" font-size="13.2" font-weight="bold" fill="#000" stroke="#000" stroke-width="0.3" text-anchor="middle" textLength="72.6" lengthAdjust="spacingAndGlyphs">VEGF-anti-</text>
<text x="272.6" y="673.9" font-size="13.2" font-weight="bold" fill="#000" stroke="#000" stroke-width="0.3" text-anchor="middle" textLength="17.4" lengthAdjust="spacingAndGlyphs">R1</text>
<text x="353.8" y="653.4" font-size="13.2" font-weight="bold" fill="#000" stroke="#000" stroke-width="0.3" text-anchor="middle" textLength="72.6" lengthAdjust="spacingAndGlyphs">VEGF-anti-</text>
<text x="354.3" y="673.9" font-size="13.2" font-weight="bold" fill="#000" stroke="#000" stroke-width="0.3" text-anchor="middle" textLength="17.4" lengthAdjust="spacingAndGlyphs">R2</text>
<path d="M99.6 485.5V466.2H188.3V542.3 M78 485.5H126.7 M163.4 542.3H211.9" stroke="#222" stroke-width="1" fill="none"/>
<path d="M188.3 513.5H271.2V580.9 M240.9 580.9H300.8" stroke="#222" stroke-width="1" fill="none"/>
<path d="M144.20 448.80L144.20 444.10M144.20 448.80L148.67 447.35M144.20 448.80L146.96 452.60M144.20 448.80L141.44 452.60M144.20 448.80L139.73 447.35" stroke="#000" stroke-width="1.8" fill="none" stroke-linecap="butt"/>
<path d="M154.40 448.80L154.40 444.10M154.40 448.80L158.87 447.35M154.40 448.80L157.16 452.60M154.40 448.80L151.64 452.60M154.40 448.80L149.93 447.35" stroke="#000" stroke-width="1.8" fill="none" stroke-linecap="butt"/>
<path d="M222.90 499.20L222.90 494.60M222.90 499.20L227.27 497.78M222.90 499.20L225.60 502.92M222.90 499.20L220.20 502.92M222.90 499.20L218.53 497.78" stroke="#000" stroke-width="1.8" fill="none" stroke-linecap="butt"/>
<rect x="403.7" y="488.5" width="10.4" height="10.6" fill="#fff" stroke="#444" stroke-width="1"/>
<rect x="403.7" y="513.3" width="10.4" height="10.6" fill="#bcbcbc" stroke="#777" stroke-width="1"/>
<rect x="403.7" y="538.3" width="10.4" height="10.8" fill="#000" stroke="#000" stroke-width="1"/>
<text x="417" y="499.3" font-size="13.2" font-weight="bold" fill="#000" stroke="#000" stroke-width="0.3" text-anchor="start" textLength="37.5" lengthAdjust="spacingAndGlyphs">CD3e</text>
<text x="417" y="524.2" font-size="13.2" font-weight="bold" fill="#000" stroke="#000" stroke-width="0.3" text-anchor="start" textLength="28.5" lengthAdjust="spacingAndGlyphs">CD4</text>
<text x="417" y="549.2" font-size="13.2" font-weight="bold" fill="#000" stroke="#000" stroke-width="0.3" text-anchor="start" textLength="36.8" lengthAdjust="spacingAndGlyphs">CD8a</text>
</g>
</svg></body></html>
